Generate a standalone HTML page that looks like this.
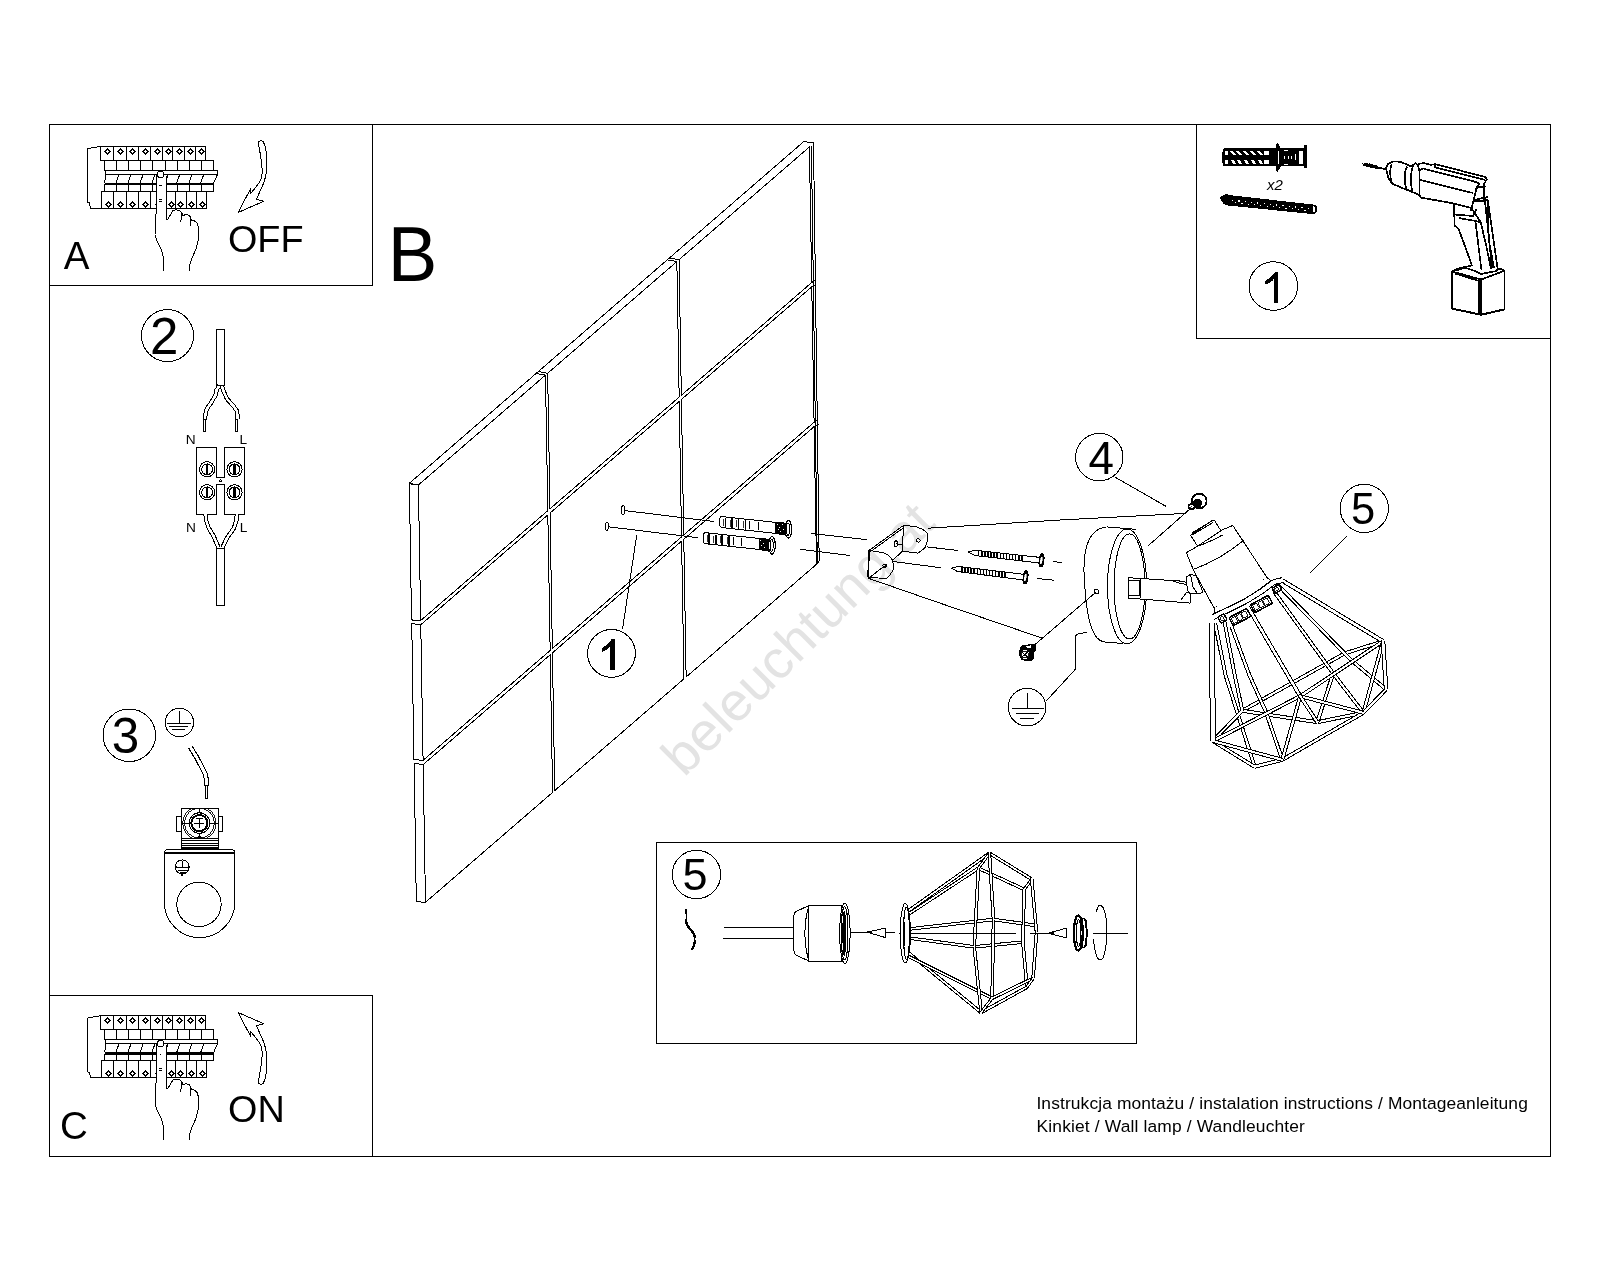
<!DOCTYPE html>
<html><head><meta charset="utf-8"><title>Instrukcja montazu</title>
<style>
html,body{margin:0;padding:0;background:#fff;}
body{width:1600px;height:1280px;overflow:hidden;position:relative;}
svg{position:absolute;left:0;top:0;filter:grayscale(1);}
.c line,.c polyline,.c polygon,.c path,.c rect,.c circle,.c ellipse{shape-rendering:crispEdges;}
text{font-family:"Liberation Sans",sans-serif;}
</style></head><body>
<svg class="c" width="1600" height="1280" viewBox="0 0 1600 1280">
<rect x="49.50" y="124.50" width="1501.00" height="1032.00" fill="none" stroke="#000" stroke-width="1" />
<rect x="49.50" y="124.50" width="323.00" height="161.00" fill="none" stroke="#000" stroke-width="1" />
<rect x="49.50" y="995.50" width="323.00" height="161.00" fill="none" stroke="#000" stroke-width="1" />
<rect x="1196.50" y="124.50" width="354.00" height="214.00" fill="none" stroke="#000" stroke-width="1" />
<rect x="656.50" y="842.50" width="480.00" height="201.00" fill="none" stroke="#000" stroke-width="1" />
<text x="63.82" y="268.60" font-size="38.5" fill="#000" >A</text>
<text x="227.91" y="252.40" font-size="37.8" fill="#000" >OFF</text>
<text x="59.94" y="1138.50" font-size="38.5" fill="#000" >C</text>
<text x="228.01" y="1121.50" font-size="37.8" fill="#000" >ON</text>
<text x="0" y="0" font-size="77" fill="#000" transform="translate(387.7 280.8) scale(0.965 1)">B</text>
<polygon points="418.40,485.00 545.48,375.15 547.78,510.69 420.71,620.54" fill="none" stroke="#000" stroke-width="1" stroke-linejoin="round" />
<polygon points="420.78,624.80 547.85,514.95 550.16,650.44 423.08,760.29" fill="none" stroke="#000" stroke-width="1" stroke-linejoin="round" />
<polygon points="423.16,764.59 550.23,654.74 552.58,792.45 425.50,902.30" fill="none" stroke="#000" stroke-width="1" stroke-linejoin="round" />
<polygon points="547.66,373.26 676.85,261.58 679.16,397.12 549.97,508.80" fill="none" stroke="#000" stroke-width="1" stroke-linejoin="round" />
<polygon points="550.04,513.05 679.23,401.38 681.53,536.87 552.35,648.55" fill="none" stroke="#000" stroke-width="1" stroke-linejoin="round" />
<polygon points="552.42,652.85 681.61,541.17 683.95,678.88 554.76,790.56" fill="none" stroke="#000" stroke-width="1" stroke-linejoin="round" />
<polygon points="679.04,259.69 809.40,147.00 811.71,282.54 681.35,395.23" fill="none" stroke="#000" stroke-width="1" stroke-linejoin="round" />
<polygon points="681.42,399.48 811.78,286.80 814.08,422.29 683.72,534.98" fill="none" stroke="#000" stroke-width="1" stroke-linejoin="round" />
<polygon points="683.80,539.28 814.16,426.59 816.50,564.30 686.14,676.99" fill="none" stroke="#000" stroke-width="1" stroke-linejoin="round" />
<polyline points="418.40,485.00 409.40,483.80 411.51,619.94 420.71,620.54" fill="none" stroke="#000" stroke-width="1" stroke-linejoin="round" />
<polyline points="420.78,624.80 411.78,623.60 413.88,759.69 423.08,760.29" fill="none" stroke="#000" stroke-width="1" stroke-linejoin="round" />
<polyline points="423.16,764.59 414.16,763.39 416.30,901.70 425.50,902.30" fill="none" stroke="#000" stroke-width="1" stroke-linejoin="round" />
<polyline points="418.40,485.00 409.30,483.30 803.75,141.60 813.50,143.00 819.20,561.00 816.50,564.30" fill="none" stroke="#000" stroke-width="1" stroke-linejoin="round" />
<line x1="811.40" y1="146.00" x2="817.30" y2="562.50" stroke="#000" stroke-width="1" />
<line x1="545.48" y1="375.15" x2="536.38" y2="373.45" stroke="#000" stroke-width="1" />
<line x1="547.66" y1="373.26" x2="538.56" y2="371.56" stroke="#000" stroke-width="1" />
<line x1="676.85" y1="261.58" x2="667.75" y2="259.88" stroke="#000" stroke-width="1" />
<line x1="679.04" y1="259.69" x2="669.94" y2="257.99" stroke="#000" stroke-width="1" />
<line x1="811.71" y1="282.54" x2="815.91" y2="280.04" stroke="#000" stroke-width="1" />
<line x1="811.78" y1="286.80" x2="815.98" y2="284.30" stroke="#000" stroke-width="1" />
<line x1="814.08" y1="422.29" x2="818.28" y2="419.79" stroke="#000" stroke-width="1" />
<line x1="814.16" y1="426.59" x2="818.36" y2="424.09" stroke="#000" stroke-width="1" />
<polyline points="100.25,146.50 88.00,148.50 87.50,149.50 87.50,202.50 89.50,203.00 90.50,208.10 101.50,208.10" fill="none" stroke="#000" stroke-width="1" stroke-linejoin="round" />
<rect x="100.25" y="146.50" width="105.35" height="13.75" fill="none" stroke="#000" stroke-width="1" />
<line x1="113.50" y1="146.50" x2="113.50" y2="160.25" stroke="#000" stroke-width="1" />
<line x1="126.50" y1="146.50" x2="126.50" y2="160.25" stroke="#000" stroke-width="1" />
<line x1="138.50" y1="146.50" x2="138.50" y2="160.25" stroke="#000" stroke-width="1" />
<line x1="150.60" y1="146.50" x2="150.60" y2="160.25" stroke="#000" stroke-width="1" />
<line x1="162.50" y1="146.50" x2="162.50" y2="160.25" stroke="#000" stroke-width="1" />
<line x1="172.75" y1="146.50" x2="172.75" y2="160.25" stroke="#000" stroke-width="1" />
<line x1="184.40" y1="146.50" x2="184.40" y2="160.25" stroke="#000" stroke-width="1" />
<line x1="195.60" y1="146.50" x2="195.60" y2="160.25" stroke="#000" stroke-width="1" />
<polygon points="107.50,149.00 110.00,151.50 107.50,154.00 105.00,151.50" fill="none" stroke="#000" stroke-width="1" stroke-linejoin="round" />
<polygon points="120.50,149.00 123.00,151.50 120.50,154.00 118.00,151.50" fill="none" stroke="#000" stroke-width="1" stroke-linejoin="round" />
<polygon points="132.50,149.00 135.00,151.50 132.50,154.00 130.00,151.50" fill="none" stroke="#000" stroke-width="1" stroke-linejoin="round" />
<polygon points="145.50,149.00 148.00,151.50 145.50,154.00 143.00,151.50" fill="none" stroke="#000" stroke-width="1" stroke-linejoin="round" />
<polygon points="157.50,149.00 160.00,151.50 157.50,154.00 155.00,151.50" fill="none" stroke="#000" stroke-width="1" stroke-linejoin="round" />
<polygon points="168.50,149.00 171.00,151.50 168.50,154.00 166.00,151.50" fill="none" stroke="#000" stroke-width="1" stroke-linejoin="round" />
<polygon points="179.50,149.00 182.00,151.50 179.50,154.00 177.00,151.50" fill="none" stroke="#000" stroke-width="1" stroke-linejoin="round" />
<polygon points="190.50,149.00 193.00,151.50 190.50,154.00 188.00,151.50" fill="none" stroke="#000" stroke-width="1" stroke-linejoin="round" />
<polygon points="201.50,149.00 204.00,151.50 201.50,154.00 199.00,151.50" fill="none" stroke="#000" stroke-width="1" stroke-linejoin="round" />
<rect x="104.75" y="160.25" width="109.00" height="10.35" fill="none" stroke="#000" stroke-width="1" />
<line x1="116.50" y1="160.25" x2="116.50" y2="170.60" stroke="#000" stroke-width="1" />
<line x1="128.50" y1="160.25" x2="128.50" y2="170.60" stroke="#000" stroke-width="1" />
<line x1="140.60" y1="160.25" x2="140.60" y2="170.60" stroke="#000" stroke-width="1" />
<line x1="152.50" y1="160.25" x2="152.50" y2="170.60" stroke="#000" stroke-width="1" />
<line x1="165.60" y1="160.25" x2="165.60" y2="170.60" stroke="#000" stroke-width="1" />
<line x1="177.25" y1="160.25" x2="177.25" y2="170.60" stroke="#000" stroke-width="1" />
<line x1="189.40" y1="160.25" x2="189.40" y2="170.60" stroke="#000" stroke-width="1" />
<line x1="201.25" y1="160.25" x2="201.25" y2="170.60" stroke="#000" stroke-width="1" />
<rect x="105.60" y="170.60" width="111.90" height="3.80" fill="none" stroke="#000" stroke-width="1" />
<line x1="104.75" y1="183.75" x2="213.75" y2="183.75" stroke="#000" stroke-width="2" />
<line x1="217.50" y1="174.40" x2="213.75" y2="183.00" stroke="#000" stroke-width="1" />
<line x1="105.60" y1="174.40" x2="104.75" y2="183.00" stroke="#000" stroke-width="1" />
<line x1="119.00" y1="174.40" x2="116.00" y2="183.00" stroke="#000" stroke-width="1" />
<line x1="131.00" y1="174.40" x2="128.00" y2="183.00" stroke="#000" stroke-width="1" />
<line x1="143.10" y1="174.40" x2="140.10" y2="183.00" stroke="#000" stroke-width="1" />
<line x1="155.00" y1="174.40" x2="152.00" y2="183.00" stroke="#000" stroke-width="1" />
<line x1="168.10" y1="174.40" x2="165.10" y2="183.00" stroke="#000" stroke-width="1" />
<line x1="179.75" y1="174.40" x2="176.75" y2="183.00" stroke="#000" stroke-width="1" />
<line x1="191.90" y1="174.40" x2="188.90" y2="183.00" stroke="#000" stroke-width="1" />
<line x1="203.75" y1="174.40" x2="200.75" y2="183.00" stroke="#000" stroke-width="1" />
<rect x="104.75" y="184.75" width="109.00" height="6.50" fill="none" stroke="#000" stroke-width="1" />
<line x1="116.50" y1="184.75" x2="116.50" y2="191.25" stroke="#000" stroke-width="1" />
<line x1="128.50" y1="184.75" x2="128.50" y2="191.25" stroke="#000" stroke-width="1" />
<line x1="140.60" y1="184.75" x2="140.60" y2="191.25" stroke="#000" stroke-width="1" />
<line x1="152.50" y1="184.75" x2="152.50" y2="191.25" stroke="#000" stroke-width="1" />
<line x1="165.60" y1="184.75" x2="165.60" y2="191.25" stroke="#000" stroke-width="1" />
<line x1="177.25" y1="184.75" x2="177.25" y2="191.25" stroke="#000" stroke-width="1" />
<line x1="189.40" y1="184.75" x2="189.40" y2="191.25" stroke="#000" stroke-width="1" />
<line x1="201.25" y1="184.75" x2="201.25" y2="191.25" stroke="#000" stroke-width="1" />
<rect x="101.50" y="191.25" width="105.00" height="16.85" fill="none" stroke="#000" stroke-width="1" />
<line x1="113.50" y1="191.25" x2="113.50" y2="208.10" stroke="#000" stroke-width="1" />
<line x1="126.50" y1="191.25" x2="126.50" y2="208.10" stroke="#000" stroke-width="1" />
<line x1="138.50" y1="191.25" x2="138.50" y2="208.10" stroke="#000" stroke-width="1" />
<line x1="150.60" y1="191.25" x2="150.60" y2="208.10" stroke="#000" stroke-width="1" />
<line x1="166.20" y1="191.25" x2="166.20" y2="208.10" stroke="#000" stroke-width="1" />
<line x1="175.00" y1="191.25" x2="175.00" y2="208.10" stroke="#000" stroke-width="1" />
<line x1="186.00" y1="191.25" x2="186.00" y2="208.10" stroke="#000" stroke-width="1" />
<line x1="196.90" y1="191.25" x2="196.90" y2="208.10" stroke="#000" stroke-width="1" />
<polygon points="108.50,202.00 111.00,204.50 108.50,207.00 106.00,204.50" fill="none" stroke="#000" stroke-width="1" stroke-linejoin="round" />
<polygon points="120.50,202.00 123.00,204.50 120.50,207.00 118.00,204.50" fill="none" stroke="#000" stroke-width="1" stroke-linejoin="round" />
<polygon points="132.50,202.00 135.00,204.50 132.50,207.00 130.00,204.50" fill="none" stroke="#000" stroke-width="1" stroke-linejoin="round" />
<polygon points="145.50,202.00 148.00,204.50 145.50,207.00 143.00,204.50" fill="none" stroke="#000" stroke-width="1" stroke-linejoin="round" />
<polygon points="158.50,202.00 161.00,204.50 158.50,207.00 156.00,204.50" fill="none" stroke="#000" stroke-width="1" stroke-linejoin="round" />
<polygon points="171.50,202.00 174.00,204.50 171.50,207.00 169.00,204.50" fill="none" stroke="#000" stroke-width="1" stroke-linejoin="round" />
<polygon points="180.50,202.00 183.00,204.50 180.50,207.00 178.00,204.50" fill="none" stroke="#000" stroke-width="1" stroke-linejoin="round" />
<polygon points="191.50,202.00 194.00,204.50 191.50,207.00 189.00,204.50" fill="none" stroke="#000" stroke-width="1" stroke-linejoin="round" />
<polygon points="202.50,202.00 205.00,204.50 202.50,207.00 200.00,204.50" fill="none" stroke="#000" stroke-width="1" stroke-linejoin="round" />
<path d="M156.25,175.00 L156.20,210.00 L155.60,222.50 L155.00,235.00 L157.50,242.00 L161.50,250.00 L163.10,256.00 L163.10,271.00 L168.00,219.00 L173.00,210.60 L176.00,209.80 L180.00,210.80 L182.00,213.00 L183.00,215.50 L186.00,214.50 L189.50,215.50 L190.80,218.00 L191.50,220.50 L193.50,220.20 L197.00,223.00 L198.60,228.00 L198.20,240.00 L196.00,249.00 L192.00,258.00 L189.80,264.50 L190.00,270.60 L166.25,219.00 L166.25,176.00 Z" fill="#fff" stroke="none"/>
<polyline points="156.25,175.00 156.20,210.00 155.60,222.50 155.00,235.00 157.50,242.00 161.50,250.00 163.10,256.00 163.10,271.00" fill="none" stroke="#000" stroke-width="1" stroke-linejoin="round" />
<polyline points="168.00,219.00 173.00,210.60 176.00,209.80 180.00,210.80 182.00,213.00 183.00,215.50 186.00,214.50 189.50,215.50 190.80,218.00 191.50,220.50 193.50,220.20 197.00,223.00 198.60,228.00 198.20,240.00 196.00,249.00 192.00,258.00 189.80,264.50 190.00,270.60" fill="none" stroke="#000" stroke-width="1" stroke-linejoin="round" />
<polyline points="166.25,176.00 166.25,219.00 168.00,219.00" fill="none" stroke="#000" stroke-width="1" stroke-linejoin="round" />
<polyline points="182.00,213.00 181.50,217.00 180.60,222.50" fill="none" stroke="#000" stroke-width="1" stroke-linejoin="round" />
<polyline points="190.80,218.00 190.80,223.00 190.60,226.30" fill="none" stroke="#000" stroke-width="1" stroke-linejoin="round" />
<circle cx="160.60" cy="174.40" r="3.30" fill="#fff" stroke="#000" stroke-width="1" />
<line x1="159.50" y1="186.00" x2="161.50" y2="185.20" stroke="#000" stroke-width="1" />
<line x1="158.80" y1="199.00" x2="162.00" y2="199.00" stroke="#000" stroke-width="1" />
<line x1="158.80" y1="201.00" x2="162.00" y2="201.00" stroke="#000" stroke-width="1" />
<polyline points="100.25,1015.80 88.00,1017.80 87.50,1018.80 87.50,1071.80 89.50,1072.30 90.50,1077.40 101.50,1077.40" fill="none" stroke="#000" stroke-width="1" stroke-linejoin="round" />
<rect x="100.25" y="1015.80" width="105.35" height="13.75" fill="none" stroke="#000" stroke-width="1" />
<line x1="113.50" y1="1015.80" x2="113.50" y2="1029.55" stroke="#000" stroke-width="1" />
<line x1="126.50" y1="1015.80" x2="126.50" y2="1029.55" stroke="#000" stroke-width="1" />
<line x1="138.50" y1="1015.80" x2="138.50" y2="1029.55" stroke="#000" stroke-width="1" />
<line x1="150.60" y1="1015.80" x2="150.60" y2="1029.55" stroke="#000" stroke-width="1" />
<line x1="162.50" y1="1015.80" x2="162.50" y2="1029.55" stroke="#000" stroke-width="1" />
<line x1="172.75" y1="1015.80" x2="172.75" y2="1029.55" stroke="#000" stroke-width="1" />
<line x1="184.40" y1="1015.80" x2="184.40" y2="1029.55" stroke="#000" stroke-width="1" />
<line x1="195.60" y1="1015.80" x2="195.60" y2="1029.55" stroke="#000" stroke-width="1" />
<polygon points="107.50,1018.00 110.00,1020.50 107.50,1023.00 105.00,1020.50" fill="none" stroke="#000" stroke-width="1" stroke-linejoin="round" />
<polygon points="120.50,1018.00 123.00,1020.50 120.50,1023.00 118.00,1020.50" fill="none" stroke="#000" stroke-width="1" stroke-linejoin="round" />
<polygon points="132.50,1018.00 135.00,1020.50 132.50,1023.00 130.00,1020.50" fill="none" stroke="#000" stroke-width="1" stroke-linejoin="round" />
<polygon points="145.50,1018.00 148.00,1020.50 145.50,1023.00 143.00,1020.50" fill="none" stroke="#000" stroke-width="1" stroke-linejoin="round" />
<polygon points="157.50,1018.00 160.00,1020.50 157.50,1023.00 155.00,1020.50" fill="none" stroke="#000" stroke-width="1" stroke-linejoin="round" />
<polygon points="168.50,1018.00 171.00,1020.50 168.50,1023.00 166.00,1020.50" fill="none" stroke="#000" stroke-width="1" stroke-linejoin="round" />
<polygon points="179.50,1018.00 182.00,1020.50 179.50,1023.00 177.00,1020.50" fill="none" stroke="#000" stroke-width="1" stroke-linejoin="round" />
<polygon points="190.50,1018.00 193.00,1020.50 190.50,1023.00 188.00,1020.50" fill="none" stroke="#000" stroke-width="1" stroke-linejoin="round" />
<polygon points="201.50,1018.00 204.00,1020.50 201.50,1023.00 199.00,1020.50" fill="none" stroke="#000" stroke-width="1" stroke-linejoin="round" />
<rect x="104.75" y="1029.55" width="109.00" height="10.35" fill="none" stroke="#000" stroke-width="1" />
<line x1="116.50" y1="1029.55" x2="116.50" y2="1039.90" stroke="#000" stroke-width="1" />
<line x1="128.50" y1="1029.55" x2="128.50" y2="1039.90" stroke="#000" stroke-width="1" />
<line x1="140.60" y1="1029.55" x2="140.60" y2="1039.90" stroke="#000" stroke-width="1" />
<line x1="152.50" y1="1029.55" x2="152.50" y2="1039.90" stroke="#000" stroke-width="1" />
<line x1="165.60" y1="1029.55" x2="165.60" y2="1039.90" stroke="#000" stroke-width="1" />
<line x1="177.25" y1="1029.55" x2="177.25" y2="1039.90" stroke="#000" stroke-width="1" />
<line x1="189.40" y1="1029.55" x2="189.40" y2="1039.90" stroke="#000" stroke-width="1" />
<line x1="201.25" y1="1029.55" x2="201.25" y2="1039.90" stroke="#000" stroke-width="1" />
<rect x="105.60" y="1039.90" width="111.90" height="3.80" fill="none" stroke="#000" stroke-width="1" />
<line x1="104.75" y1="1053.05" x2="213.75" y2="1053.05" stroke="#000" stroke-width="2" />
<line x1="217.50" y1="1043.70" x2="213.75" y2="1052.30" stroke="#000" stroke-width="1" />
<line x1="105.60" y1="1043.70" x2="104.75" y2="1052.30" stroke="#000" stroke-width="1" />
<line x1="119.00" y1="1043.70" x2="116.00" y2="1052.30" stroke="#000" stroke-width="1" />
<line x1="131.00" y1="1043.70" x2="128.00" y2="1052.30" stroke="#000" stroke-width="1" />
<line x1="143.10" y1="1043.70" x2="140.10" y2="1052.30" stroke="#000" stroke-width="1" />
<line x1="155.00" y1="1043.70" x2="152.00" y2="1052.30" stroke="#000" stroke-width="1" />
<line x1="168.10" y1="1043.70" x2="165.10" y2="1052.30" stroke="#000" stroke-width="1" />
<line x1="179.75" y1="1043.70" x2="176.75" y2="1052.30" stroke="#000" stroke-width="1" />
<line x1="191.90" y1="1043.70" x2="188.90" y2="1052.30" stroke="#000" stroke-width="1" />
<line x1="203.75" y1="1043.70" x2="200.75" y2="1052.30" stroke="#000" stroke-width="1" />
<rect x="104.75" y="1054.05" width="109.00" height="6.50" fill="none" stroke="#000" stroke-width="1" />
<line x1="116.50" y1="1054.05" x2="116.50" y2="1060.55" stroke="#000" stroke-width="1" />
<line x1="128.50" y1="1054.05" x2="128.50" y2="1060.55" stroke="#000" stroke-width="1" />
<line x1="140.60" y1="1054.05" x2="140.60" y2="1060.55" stroke="#000" stroke-width="1" />
<line x1="152.50" y1="1054.05" x2="152.50" y2="1060.55" stroke="#000" stroke-width="1" />
<line x1="165.60" y1="1054.05" x2="165.60" y2="1060.55" stroke="#000" stroke-width="1" />
<line x1="177.25" y1="1054.05" x2="177.25" y2="1060.55" stroke="#000" stroke-width="1" />
<line x1="189.40" y1="1054.05" x2="189.40" y2="1060.55" stroke="#000" stroke-width="1" />
<line x1="201.25" y1="1054.05" x2="201.25" y2="1060.55" stroke="#000" stroke-width="1" />
<rect x="101.50" y="1060.55" width="105.00" height="16.85" fill="none" stroke="#000" stroke-width="1" />
<line x1="113.50" y1="1060.55" x2="113.50" y2="1077.40" stroke="#000" stroke-width="1" />
<line x1="126.50" y1="1060.55" x2="126.50" y2="1077.40" stroke="#000" stroke-width="1" />
<line x1="138.50" y1="1060.55" x2="138.50" y2="1077.40" stroke="#000" stroke-width="1" />
<line x1="150.60" y1="1060.55" x2="150.60" y2="1077.40" stroke="#000" stroke-width="1" />
<line x1="166.20" y1="1060.55" x2="166.20" y2="1077.40" stroke="#000" stroke-width="1" />
<line x1="175.00" y1="1060.55" x2="175.00" y2="1077.40" stroke="#000" stroke-width="1" />
<line x1="186.00" y1="1060.55" x2="186.00" y2="1077.40" stroke="#000" stroke-width="1" />
<line x1="196.90" y1="1060.55" x2="196.90" y2="1077.40" stroke="#000" stroke-width="1" />
<polygon points="108.50,1071.00 111.00,1073.50 108.50,1076.00 106.00,1073.50" fill="none" stroke="#000" stroke-width="1" stroke-linejoin="round" />
<polygon points="120.50,1071.00 123.00,1073.50 120.50,1076.00 118.00,1073.50" fill="none" stroke="#000" stroke-width="1" stroke-linejoin="round" />
<polygon points="132.50,1071.00 135.00,1073.50 132.50,1076.00 130.00,1073.50" fill="none" stroke="#000" stroke-width="1" stroke-linejoin="round" />
<polygon points="145.50,1071.00 148.00,1073.50 145.50,1076.00 143.00,1073.50" fill="none" stroke="#000" stroke-width="1" stroke-linejoin="round" />
<polygon points="158.50,1071.00 161.00,1073.50 158.50,1076.00 156.00,1073.50" fill="none" stroke="#000" stroke-width="1" stroke-linejoin="round" />
<polygon points="171.50,1071.00 174.00,1073.50 171.50,1076.00 169.00,1073.50" fill="none" stroke="#000" stroke-width="1" stroke-linejoin="round" />
<polygon points="180.50,1071.00 183.00,1073.50 180.50,1076.00 178.00,1073.50" fill="none" stroke="#000" stroke-width="1" stroke-linejoin="round" />
<polygon points="191.50,1071.00 194.00,1073.50 191.50,1076.00 189.00,1073.50" fill="none" stroke="#000" stroke-width="1" stroke-linejoin="round" />
<polygon points="202.50,1071.00 205.00,1073.50 202.50,1076.00 200.00,1073.50" fill="none" stroke="#000" stroke-width="1" stroke-linejoin="round" />
<path d="M156.25,1044.30 L156.20,1079.30 L155.60,1091.80 L155.00,1104.30 L157.50,1111.30 L161.50,1119.30 L163.10,1125.30 L163.10,1140.30 L168.00,1088.30 L173.00,1079.90 L176.00,1079.10 L180.00,1080.10 L182.00,1082.30 L183.00,1084.80 L186.00,1083.80 L189.50,1084.80 L190.80,1087.30 L191.50,1089.80 L193.50,1089.50 L197.00,1092.30 L198.60,1097.30 L198.20,1109.30 L196.00,1118.30 L192.00,1127.30 L189.80,1133.80 L190.00,1139.90 L166.25,1088.30 L166.25,1045.30 Z" fill="#fff" stroke="none"/>
<polyline points="156.25,1044.30 156.20,1079.30 155.60,1091.80 155.00,1104.30 157.50,1111.30 161.50,1119.30 163.10,1125.30 163.10,1140.30" fill="none" stroke="#000" stroke-width="1" stroke-linejoin="round" />
<polyline points="168.00,1088.30 173.00,1079.90 176.00,1079.10 180.00,1080.10 182.00,1082.30 183.00,1084.80 186.00,1083.80 189.50,1084.80 190.80,1087.30 191.50,1089.80 193.50,1089.50 197.00,1092.30 198.60,1097.30 198.20,1109.30 196.00,1118.30 192.00,1127.30 189.80,1133.80 190.00,1139.90" fill="none" stroke="#000" stroke-width="1" stroke-linejoin="round" />
<polyline points="166.25,1045.30 166.25,1088.30 168.00,1088.30" fill="none" stroke="#000" stroke-width="1" stroke-linejoin="round" />
<polyline points="182.00,1082.30 181.50,1086.30 180.60,1091.80" fill="none" stroke="#000" stroke-width="1" stroke-linejoin="round" />
<polyline points="190.80,1087.30 190.80,1092.30 190.60,1095.60" fill="none" stroke="#000" stroke-width="1" stroke-linejoin="round" />
<circle cx="160.60" cy="1043.70" r="3.30" fill="#fff" stroke="#000" stroke-width="1" />
<line x1="159.50" y1="1055.30" x2="161.50" y2="1054.50" stroke="#000" stroke-width="1" />
<line x1="158.80" y1="1068.30" x2="162.00" y2="1068.30" stroke="#000" stroke-width="1" />
<line x1="158.80" y1="1070.30" x2="162.00" y2="1070.30" stroke="#000" stroke-width="1" />
<polygon points="258.10,142.50 259.60,150.00 261.25,160.00 262.40,172.50 260.80,180.00 257.50,185.00 253.50,190.00 250.60,193.75 250.60,188.75 238.10,212.50 263.75,201.25 256.25,199.40 261.25,188.75 264.50,181.00 266.25,172.50 266.90,157.50 265.50,147.00 263.10,141.25 260.50,140.40 258.10,142.50" fill="none" stroke="#000" stroke-width="1" stroke-linejoin="round" />
<polygon points="258.10,1082.50 259.60,1075.00 261.25,1065.00 262.40,1052.50 260.80,1045.00 257.50,1040.00 253.50,1035.00 250.60,1031.25 250.60,1036.25 238.10,1012.50 263.75,1023.75 256.25,1025.60 261.25,1036.25 264.50,1044.00 266.25,1052.50 266.90,1067.50 265.50,1078.00 263.10,1083.75 260.50,1084.60 258.10,1082.50" fill="none" stroke="#000" stroke-width="1" stroke-linejoin="round" />
<circle cx="167.50" cy="335.60" r="26.00" fill="none" stroke="#000" stroke-width="1" />
<text x="149.94" y="354.00" font-size="51" fill="#000" >2</text>
<circle cx="129.30" cy="735.25" r="26.25" fill="none" stroke="#000" stroke-width="1" />
<text x="111.87" y="752.90" font-size="49.4" fill="#000" >3</text>
<circle cx="1273.30" cy="286.05" r="24.30" fill="none" stroke="#000" stroke-width="1" />
<path d="M1278.30,302.70 L1278.30,271.50 L1275.38,271.50 Q1272.76,276.53 1264.50,281.16 L1264.50,284.79 Q1272.26,282.07 1273.97,278.95 L1273.97,302.70 Z" fill="#000"/>
<circle cx="611.50" cy="653.40" r="23.90" fill="none" stroke="#000" stroke-width="1" />
<path d="M614.70,669.70 L614.70,638.75 L611.80,638.75 Q609.21,643.74 601.60,648.33 L601.60,651.93 Q608.71,649.23 610.41,646.14 L610.41,669.70 Z" fill="#000"/>
<circle cx="1099.30" cy="457.10" r="23.70" fill="none" stroke="#000" stroke-width="1" />
<text x="1088.55" y="473.60" font-size="45.8" fill="#000" >4</text>
<circle cx="1364.30" cy="508.40" r="24.10" fill="none" stroke="#000" stroke-width="1" />
<text x="1350.96" y="523.80" font-size="43.5" fill="#000" >5</text>
<circle cx="696.50" cy="874.50" r="24.20" fill="none" stroke="#000" stroke-width="1" />
<text x="682.60" y="890.40" font-size="45" fill="#000" >5</text>
<rect x="216.25" y="329.40" width="8.50" height="56.20" fill="none" stroke="#000" stroke-width="1" />
<path d="M219.30,385.60 L216.60,390.00 L215.60,395.00 L210.50,403.60 L206.60,409.20 L205.40,414.40 L205.20,419.50" fill="none" stroke="#000" stroke-width="4.4" stroke-linejoin="round"/>
<path d="M219.30,385.60 L216.60,390.00 L215.60,395.00 L210.50,403.60 L206.60,409.20 L205.40,414.40 L205.20,419.50" fill="none" stroke="#fff" stroke-width="2.4" stroke-linejoin="round"/>
<path d="M221.80,385.60 L223.60,391.50 L227.20,399.00 L233.60,406.20 L236.60,410.50 L237.40,414.40 L237.60,419.50" fill="none" stroke="#000" stroke-width="4.4" stroke-linejoin="round"/>
<path d="M221.80,385.60 L223.60,391.50 L227.20,399.00 L233.60,406.20 L236.60,410.50 L237.40,414.40 L237.60,419.50" fill="none" stroke="#fff" stroke-width="2.4" stroke-linejoin="round"/>
<rect x="203.60" y="419.40" width="2.30" height="11.90" fill="none" stroke="#000" stroke-width="1" />
<rect x="235.40" y="419.40" width="2.30" height="11.90" fill="none" stroke="#000" stroke-width="1" />
<rect x="218" y="384" width="5" height="2" fill="#fff"/>
<line x1="216.25" y1="385.60" x2="224.75" y2="385.60" stroke="#000" stroke-width="1" />
<text x="185.78" y="443.75" font-size="13.7" fill="#000" >N</text>
<text x="239.48" y="443.75" font-size="13.7" fill="#000" >L</text>
<text x="185.88" y="532.40" font-size="13.7" fill="#000" >N</text>
<text x="239.78" y="532.40" font-size="13.7" fill="#000" >L</text>
<polygon points="216.70,477.20 216.70,447.40 196.40,447.40 196.40,514.30 216.70,514.30 216.70,484.60 224.60,484.60 224.60,514.30 244.50,514.30 244.50,447.40 224.60,447.40 224.60,477.20" fill="none" stroke="#000" stroke-width="1" stroke-linejoin="round" />
<circle cx="220.50" cy="480.70" r="0.90" fill="none" stroke="#000" stroke-width="1" />
<circle cx="207.10" cy="469.30" r="7.60" fill="none" stroke="#000" stroke-width="1" />
<circle cx="207.10" cy="469.30" r="5.40" fill="none" stroke="#000" stroke-width="1" />
<rect x="206.00" y="464.80" width="2.2" height="9" fill="#000"/>
<line x1="204.60" y1="464.70" x2="209.60" y2="464.70" stroke="#000" stroke-width="1" />
<circle cx="207.10" cy="492.30" r="7.60" fill="none" stroke="#000" stroke-width="1" />
<circle cx="207.10" cy="492.30" r="5.40" fill="none" stroke="#000" stroke-width="1" />
<rect x="206.00" y="487.80" width="2.2" height="9" fill="#000"/>
<line x1="204.60" y1="487.70" x2="209.60" y2="487.70" stroke="#000" stroke-width="1" />
<circle cx="234.50" cy="469.30" r="7.60" fill="none" stroke="#000" stroke-width="1" />
<circle cx="234.50" cy="469.30" r="5.40" fill="none" stroke="#000" stroke-width="1" />
<rect x="233.40" y="464.80" width="2.2" height="9" fill="#000"/>
<line x1="232.00" y1="464.70" x2="237.00" y2="464.70" stroke="#000" stroke-width="1" />
<circle cx="234.50" cy="492.30" r="7.60" fill="none" stroke="#000" stroke-width="1" />
<circle cx="234.50" cy="492.30" r="5.40" fill="none" stroke="#000" stroke-width="1" />
<rect x="233.40" y="487.80" width="2.2" height="9" fill="#000"/>
<line x1="232.00" y1="487.70" x2="237.00" y2="487.70" stroke="#000" stroke-width="1" />
<path d="M205.60,514.30 L206.00,520.00 L208.50,527.50 L214.00,537.00 L218.60,548.00" fill="none" stroke="#000" stroke-width="4.4" stroke-linejoin="round"/>
<path d="M205.60,514.30 L206.00,520.00 L208.50,527.50 L214.00,537.00 L218.60,548.00" fill="none" stroke="#fff" stroke-width="2.4" stroke-linejoin="round"/>
<path d="M236.80,514.30 L236.50,520.00 L234.00,528.00 L227.00,538.00 L222.30,548.00" fill="none" stroke="#000" stroke-width="4.4" stroke-linejoin="round"/>
<path d="M236.80,514.30 L236.50,520.00 L234.00,528.00 L227.00,538.00 L222.30,548.00" fill="none" stroke="#fff" stroke-width="2.4" stroke-linejoin="round"/>
<rect x="216.30" y="548.00" width="8.30" height="57.80" fill="none" stroke="#000" stroke-width="1" />
<circle cx="179.40" cy="722.50" r="14.25" fill="none" stroke="#000" stroke-width="1" />
<line x1="179.40" y1="711.25" x2="179.40" y2="723.10" stroke="#000" stroke-width="1" />
<line x1="166.90" y1="723.10" x2="191.25" y2="723.10" stroke="#000" stroke-width="1" />
<line x1="169.40" y1="726.25" x2="188.10" y2="726.25" stroke="#000" stroke-width="1" />
<line x1="171.90" y1="729.40" x2="185.00" y2="729.40" stroke="#000" stroke-width="1" />
<path d="M190.30,746.90 L197.00,758.00 L204.90,773.00 L206.30,779.00 L206.30,786.00" fill="none" stroke="#000" stroke-width="5.2" stroke-linejoin="round"/>
<path d="M190.30,746.90 L197.00,758.00 L204.90,773.00 L206.30,779.00 L206.30,786.00" fill="none" stroke="#fff" stroke-width="3.0" stroke-linejoin="round"/>
<rect x="205.25" y="785.00" width="2.25" height="13.75" fill="none" stroke="#000" stroke-width="1" />
<rect x="176.25" y="816.25" width="46.25" height="15" fill="#fff" stroke="#000"/>
<rect x="181" y="808.1" width="37.75" height="30.65" fill="#fff" stroke="#000"/>
<circle cx="199.4" cy="823.1" r="16.6" fill="none" stroke="#000" stroke-width="0.9" clip-path="url(#clipT)"/>
<circle cx="199.4" cy="823.1" r="15.0" fill="none" stroke="#000" stroke-width="0.9" clip-path="url(#clipT)"/>
<clipPath id="clipT"><rect x="181" y="808.1" width="37.75" height="30.65"/></clipPath>
<line x1="181.00" y1="823.10" x2="218.75" y2="823.10" stroke="#000" stroke-width="1" />
<line x1="199.40" y1="808.10" x2="199.40" y2="838.75" stroke="#000" stroke-width="1" />
<circle cx="199.40" cy="823.10" r="10.30" fill="#fff" stroke="#000" stroke-width="1" />
<circle cx="199.40" cy="823.10" r="8.10" fill="#fff" stroke="#000" stroke-width="2" />
<line x1="194.40" y1="823.10" x2="204.40" y2="823.10" stroke="#000" stroke-width="1" />
<line x1="199.40" y1="818.10" x2="199.40" y2="828.10" stroke="#000" stroke-width="1" />
<line x1="196.00" y1="818.00" x2="203.00" y2="818.00" stroke="#000" stroke-width="1" />
<path d="M196,838.7 L199.4,835.5 L203,838.7 Z" fill="#000"/>
<rect x="181.00" y="838.75" width="37.75" height="10.65" fill="#fff" stroke="#000" stroke-width="1" />
<line x1="181.00" y1="840.80" x2="218.75" y2="840.80" stroke="#000" stroke-width="1.2" />
<line x1="181.00" y1="843.20" x2="218.75" y2="843.20" stroke="#000" stroke-width="1.2" />
<line x1="181.00" y1="845.70" x2="218.75" y2="845.70" stroke="#000" stroke-width="1.2" />
<line x1="181.00" y1="848.00" x2="218.75" y2="848.00" stroke="#000" stroke-width="1.2" />
<path d="M164.4,853 L164.4,902.5 A35.15,35.15 0 0 0 234.7,902.5 L234.7,853" fill="none" stroke="#000" stroke-width="1" stroke-linejoin="round" />
<path d="M164.4,853 Q164.4,849.4 168,849.4 L231,849.4 Q234.7,849.4 234.7,853 Z" fill="none" stroke="#000" stroke-width="1" stroke-linejoin="round" />
<line x1="164.40" y1="852.90" x2="234.70" y2="852.90" stroke="#000" stroke-width="1" />
<circle cx="199.00" cy="904.40" r="22.20" fill="none" stroke="#000" stroke-width="1" />
<circle cx="182.20" cy="866.90" r="7.00" fill="none" stroke="#000" stroke-width="1" />
<line x1="182.20" y1="860.50" x2="182.20" y2="867.50" stroke="#000" stroke-width="1" />
<line x1="176.00" y1="867.50" x2="188.40" y2="867.50" stroke="#000" stroke-width="1" />
<line x1="177.50" y1="870.00" x2="187.00" y2="870.00" stroke="#000" stroke-width="1" />
<line x1="179.50" y1="872.50" x2="185.00" y2="872.50" stroke="#000" stroke-width="1" />
<line x1="175.00" y1="866.90" x2="176.50" y2="866.90" stroke="#000" stroke-width="2" />
<line x1="188.00" y1="866.90" x2="189.40" y2="866.90" stroke="#000" stroke-width="2" />
<line x1="182.20" y1="873.50" x2="182.20" y2="875.50" stroke="#000" stroke-width="2" />
<path d="M1224.5,148.5 L1276,148.5 L1277.2,143.2 L1280.5,148.5 L1304.5,148.5 L1305,145.3 L1306.8,146 L1306.8,167.6 L1305,168 L1304.5,165.9 L1280.5,165.9 L1277.2,171.4 L1276,165.9 L1224.5,165.9 Q1222.9,165.9 1222.9,160 L1222.9,154.5 Q1222.9,148.5 1224.5,148.5 Z" fill="#000" stroke="#000" stroke-width="1" stroke-linejoin="round" />
<g fill="#fff"><rect x="1225" y="151" width="3" height="4"/><rect x="1225" y="159.5" width="3" height="4"/><path d="M1230,151 l3,0 l3,4 l-3,0 z"/><path d="M1236,151 l3,0 l3,4 l-3,0 z"/><path d="M1243,151 l3,0 l3,4 l-3,0 z"/><path d="M1250,151 l3,0 l3,4 l-3,0 z"/><path d="M1257,151 l3,0 l3,4 l-3,0 z"/><path d="M1230,159.5 l3,0 l3,4 l-3,0 z"/><path d="M1236,159.5 l3,0 l3,4 l-3,0 z"/><path d="M1243,159.5 l3,0 l3,4 l-3,0 z"/><path d="M1250,159.5 l3,0 l3,4 l-3,0 z"/><path d="M1257,159.5 l3,0 l3,4 l-3,0 z"/><rect x="1264" y="151" width="5" height="4"/><rect x="1264" y="159.5" width="5" height="4"/><rect x="1278" y="150.5" width="1.2" height="13"/><rect x="1283.5" y="150" width="4" height="1"/><rect x="1283.5" y="163.5" width="4" height="1"/><rect x="1299" y="150.5" width="4" height="13"/><rect x="1284" y="155.5" width="1" height="3"/><rect x="1287.5" y="155.5" width="1" height="3"/><rect x="1291" y="155.5" width="1" height="3"/><rect x="1294.5" y="154" width="1" height="6"/></g>
<text x="1266.90" y="189.80" font-size="15.0" fill="#000" font-style="italic">x2</text>
<path d="M1220.2,197.8 L1226,194.5 L1233,196 L1313,205 Q1317.5,205.8 1317,209.5 Q1316.5,213.8 1312,213.5 L1228,205 L1224,203.5 Z" fill="#000" stroke="#000" stroke-width="1" stroke-linejoin="round" />
<g fill="#fff"><rect x="1232.0" y="199.6" width="1.2" height="1.2"/><rect x="1238.3" y="200.3" width="1.2" height="1.2"/><rect x="1244.6" y="200.9" width="1.2" height="1.2"/><rect x="1250.9" y="201.6" width="1.2" height="1.2"/><rect x="1257.2" y="202.3" width="1.2" height="1.2"/><rect x="1263.5" y="202.9" width="1.2" height="1.2"/><rect x="1269.8" y="203.6" width="1.2" height="1.2"/><rect x="1276.1" y="204.3" width="1.2" height="1.2"/><rect x="1282.4" y="205.0" width="1.2" height="1.2"/><rect x="1288.7" y="205.6" width="1.2" height="1.2"/><rect x="1295.0" y="206.3" width="1.2" height="1.2"/><rect x="1301.3" y="207.0" width="1.2" height="1.2"/><rect x="1307.6" y="207.6" width="1.2" height="1.2"/><rect x="1235.0" y="202.2" width="1.2" height="1.2"/><rect x="1241.3" y="202.9" width="1.2" height="1.2"/><rect x="1247.6" y="203.5" width="1.2" height="1.2"/><rect x="1253.9" y="204.2" width="1.2" height="1.2"/><rect x="1260.2" y="204.9" width="1.2" height="1.2"/><rect x="1266.5" y="205.5" width="1.2" height="1.2"/><rect x="1272.8" y="206.2" width="1.2" height="1.2"/><rect x="1279.1" y="206.9" width="1.2" height="1.2"/><rect x="1285.4" y="207.6" width="1.2" height="1.2"/><rect x="1291.7" y="208.2" width="1.2" height="1.2"/><rect x="1298.0" y="208.9" width="1.2" height="1.2"/><rect x="1304.3" y="209.6" width="1.2" height="1.2"/><path d="M1313.5,206.3 Q1316,207.5 1315.5,210 Q1315,212.5 1313.3,212.3 Z"/></g>
<path d="M1386.2,168.4 Q1386.5,164.8 1389,163.5 L1393,161.5 L1400,161.7 L1406,164.2 L1411,166.2 L1415.4,163.3 L1418,165 L1419.4,170.6 L1419.4,195 L1408,190.2 L1401,187.5 L1393,184 Q1388.2,180 1387.3,174 Z" fill="none" stroke="#000" stroke-width="1.7" stroke-linejoin="round" />
<path d="M1391.5,164.5 Q1388.7,172 1391.8,182.5" fill="none" stroke="#000" stroke-width="1.7" stroke-linejoin="round" />
<path d="M1407,166.5 Q1402.5,176 1406.5,189.5" fill="none" stroke="#000" stroke-width="1.7" stroke-linejoin="round" />
<path d="M1413,166 Q1409,178 1412.5,192" fill="none" stroke="#000" stroke-width="1.7" stroke-linejoin="round" />
<path d="M1418.5,164 L1424,163 L1431,164.8 L1435,164.2 L1485,176.8 L1486.8,179.4 L1484,184 L1484,198.5 L1487.8,200.5 L1497.8,269.5 L1495.5,271.2" fill="none" stroke="#000" stroke-width="1.7" stroke-linejoin="round" />
<path d="M1419.4,170.6 L1423,168.5 L1474,181.5 L1479.5,183.5" fill="none" stroke="#000" stroke-width="1.7" stroke-linejoin="round" />
<path d="M1434.7,164.6 L1434.7,167.2 L1485,180" fill="none" stroke="#000" stroke-width="1.7" stroke-linejoin="round" />
<path d="M1420,180 L1473,193" fill="none" stroke="#000" stroke-width="1.7" stroke-linejoin="round" />
<path d="M1419.4,195 L1420.5,197.5 L1454,203.5 L1471.5,208" fill="none" stroke="#000" stroke-width="1.7" stroke-linejoin="round" />
<path d="M1479.5,183.5 L1476.5,188 L1473.5,201 L1470.5,211.5" fill="none" stroke="#000" stroke-width="1.7" stroke-linejoin="round" />
<path d="M1476.5,188 L1485.5,186" fill="none" stroke="#000" stroke-width="1.7" stroke-linejoin="round" />
<path d="M1474,200 L1487.8,197" fill="none" stroke="#000" stroke-width="1.7" stroke-linejoin="round" />
<path d="M1474,201.5 L1487.8,200.5" fill="none" stroke="#000" stroke-width="1.7" stroke-linejoin="round" />
<path d="M1454,203.5 L1454.6,225.7 L1458.6,228.8 L1468,254.5 L1471.9,265.5 L1462,267.5 L1452.5,270.8" fill="none" stroke="#000" stroke-width="1.7" stroke-linejoin="round" />
<path d="M1454.6,214.5 L1473,216 L1476.6,209" fill="none" stroke="#000" stroke-width="1.7" stroke-linejoin="round" />
<path d="M1458.6,218 L1475.8,221 L1480.8,222.5 L1486.5,247 L1491,269" fill="none" stroke="#000" stroke-width="1.7" stroke-linejoin="round" />
<path d="M1471.5,208 L1480.8,222.5" fill="none" stroke="#000" stroke-width="1.7" stroke-linejoin="round" />
<path d="M1475.5,222 L1481.5,270.5" fill="none" stroke="#000" stroke-width="1.7" stroke-linejoin="round" />
<path d="M1487.8,200.5 L1488.8,240 L1494,268" fill="none" stroke="#000" stroke-width="1.7" stroke-linejoin="round" />
<path d="M1484,198.5 L1485.5,205 L1492,268" fill="none" stroke="#000" stroke-width="1.7" stroke-linejoin="round" />
<path d="M1452,271.5 L1465,267.8 L1472.5,270 L1481.2,274 L1495.5,271.2 L1500,268.5 L1504.4,270.8 L1504.4,309.4 L1481.2,314.7 L1452,308.7 Z" fill="none" stroke="#000" stroke-width="1.7" stroke-linejoin="round" />
<path d="M1452,271.5 L1481.2,279.5 L1504.4,270.8" fill="none" stroke="#000" stroke-width="1.7" stroke-linejoin="round" />
<path d="M1481.2,279.5 L1481.2,314.7" fill="none" stroke="#000" stroke-width="1.7" stroke-linejoin="round" />
<path d="M1479.2,279 L1479.2,314" fill="none" stroke="#000" stroke-width="1.7" stroke-linejoin="round" />
<path d="M1455,273.5 L1479,281" fill="none" stroke="#000" stroke-width="1.7" stroke-linejoin="round" />
<path d="M1452,308.7 L1481.2,314.7 L1504.4,309.4" fill="none" stroke="#000" stroke-width="2"/>
<path d="M1363.5,164.3 L1378,167.5" fill="none" stroke="#000" stroke-width="3.4"/>
<path d="M1378,167.5 L1387,169.5" fill="none" stroke="#000" stroke-width="1.8"/>
<path d="M1362.5,163 l1.5,3 M1366,163 l1.5,3.5 M1369,163.5 l1.5,3.5 M1372,164 l1.5,3.5 M1375,165 l1.5,3.5" fill="none" stroke="#000" stroke-width="1"/>
<ellipse cx="623.20" cy="510.10" rx="1.80" ry="4.40" fill="none" stroke="#000" stroke-width="1"  />
<ellipse cx="606.80" cy="526.50" rx="1.60" ry="4.20" fill="none" stroke="#000" stroke-width="1"  />
<line x1="625.00" y1="510.60" x2="713.80" y2="521.50" stroke="#000" stroke-width="1" />
<line x1="608.50" y1="526.80" x2="698.00" y2="537.70" stroke="#000" stroke-width="1" />
<line x1="636.70" y1="535.00" x2="622.50" y2="629.50" stroke="#000" stroke-width="1" />
<path d="M721.2,516.5 L776.2,522.44 L776.2,533.44 L721.2,527.5 Q719.6,526.5 719.6,522.0 Q719.6,517.5 721.2,516.5 Z" fill="#fff" stroke="#000" stroke-width="1" stroke-linejoin="round" />
<line x1="725.50" y1="517.76" x2="725.50" y2="527.66" stroke="#000" stroke-width="1.7" />
<line x1="723.70" y1="518.96" x2="723.70" y2="525.96" stroke="#000" stroke-width="0.8" />
<line x1="732.10" y1="518.48" x2="732.10" y2="528.38" stroke="#000" stroke-width="1.7" />
<line x1="730.30" y1="519.68" x2="730.30" y2="526.68" stroke="#000" stroke-width="0.8" />
<line x1="738.60" y1="519.18" x2="738.60" y2="529.08" stroke="#000" stroke-width="1.7" />
<line x1="736.80" y1="520.38" x2="736.80" y2="527.38" stroke="#000" stroke-width="0.8" />
<line x1="745.50" y1="519.92" x2="745.50" y2="529.82" stroke="#000" stroke-width="1.7" />
<line x1="743.70" y1="521.12" x2="743.70" y2="528.12" stroke="#000" stroke-width="0.8" />
<line x1="749.50" y1="521.06" x2="749.50" y2="529.06" stroke="#000" stroke-width="1" />
<line x1="758.00" y1="521.97" x2="758.00" y2="529.97" stroke="#000" stroke-width="1" />
<path d="M775.20,521.93 L785.20,522.61 L785.20,535.61 L775.20,533.73 Z" fill="#000"/>
<g fill="#fff"><rect x="776.70" y="524.33" width="0.9" height="0.9"/><rect x="777.70" y="529.33" width="0.9" height="0.9"/><rect x="779.30" y="527.33" width="0.9" height="0.9"/><rect x="780.30" y="530.83" width="0.9" height="0.9"/><rect x="781.90" y="524.33" width="0.9" height="0.9"/><rect x="782.90" y="529.33" width="0.9" height="0.9"/></g>
<ellipse cx="788.40" cy="529.26" rx="3.30" ry="8.80" fill="#fff" stroke="#000" stroke-width="1.2"  />
<ellipse cx="788.00" cy="529.26" rx="1.60" ry="6.00" fill="none" stroke="#000" stroke-width="1"  />
<path d="M704.8000000000001,532.6 L759.8000000000001,538.54 L759.8000000000001,549.54 L704.8000000000001,543.6 Q703.2,542.6 703.2,538.1 Q703.2,533.6 704.8000000000001,532.6 Z" fill="#fff" stroke="#000" stroke-width="1" stroke-linejoin="round" />
<line x1="709.10" y1="533.86" x2="709.10" y2="543.76" stroke="#000" stroke-width="1.7" />
<line x1="707.30" y1="535.06" x2="707.30" y2="542.06" stroke="#000" stroke-width="0.8" />
<line x1="715.70" y1="534.58" x2="715.70" y2="544.48" stroke="#000" stroke-width="1.7" />
<line x1="713.90" y1="535.78" x2="713.90" y2="542.78" stroke="#000" stroke-width="0.8" />
<line x1="722.20" y1="535.28" x2="722.20" y2="545.18" stroke="#000" stroke-width="1.7" />
<line x1="720.40" y1="536.48" x2="720.40" y2="543.48" stroke="#000" stroke-width="0.8" />
<line x1="729.10" y1="536.02" x2="729.10" y2="545.92" stroke="#000" stroke-width="1.7" />
<line x1="727.30" y1="537.22" x2="727.30" y2="544.22" stroke="#000" stroke-width="0.8" />
<line x1="733.10" y1="537.16" x2="733.10" y2="545.16" stroke="#000" stroke-width="1" />
<line x1="741.60" y1="538.07" x2="741.60" y2="546.07" stroke="#000" stroke-width="1" />
<path d="M758.80,538.03 L768.80,538.71 L768.80,551.71 L758.80,549.83 Z" fill="#000"/>
<g fill="#fff"><rect x="760.30" y="540.43" width="0.9" height="0.9"/><rect x="761.30" y="545.43" width="0.9" height="0.9"/><rect x="762.90" y="543.43" width="0.9" height="0.9"/><rect x="763.90" y="546.93" width="0.9" height="0.9"/><rect x="765.50" y="540.43" width="0.9" height="0.9"/><rect x="766.50" y="545.43" width="0.9" height="0.9"/></g>
<ellipse cx="772.00" cy="545.36" rx="3.30" ry="8.80" fill="#fff" stroke="#000" stroke-width="1.2"  />
<ellipse cx="771.60" cy="545.36" rx="1.60" ry="6.00" fill="none" stroke="#000" stroke-width="1"  />
<line x1="811.40" y1="533.50" x2="866.60" y2="539.60" stroke="#000" stroke-width="1" />
<line x1="800.00" y1="549.30" x2="849.60" y2="555.50" stroke="#000" stroke-width="1" />
<line x1="926.70" y1="546.90" x2="957.60" y2="550.40" stroke="#000" stroke-width="1" />
<line x1="1053.50" y1="561.50" x2="1062.00" y2="562.60" stroke="#000" stroke-width="1" />
<line x1="893.40" y1="561.50" x2="940.60" y2="567.70" stroke="#000" stroke-width="1" />
<line x1="1037.20" y1="578.60" x2="1054.30" y2="580.20" stroke="#000" stroke-width="1" />
<path d="M903.4,525.5 L869.2,550.3 L884.7,553.1 L892.2,560.6 L902.5,551.25 Z" fill="#fff" stroke="none"/>
<path d="M903.4,525.5 L914.7,526.4 Q922.5,528.5 926.9,532.5 Q928.5,536.5 927.3,541 Q926.5,545 925,547.5 Q921.5,551.5 917.5,553.1 L902.5,551.25 Z" fill="#fff" stroke="#000" stroke-width="1" stroke-linejoin="round" />
<path d="M869.2,550.3 L884.7,553.1 Q890.5,556 892.7,560.6 Q893.8,565 893.1,570 Q890.5,575 886.6,578.4 L868.0,577.5 Z" fill="#fff" stroke="#000" stroke-width="1" stroke-linejoin="round" />
<line x1="903.40" y1="525.50" x2="869.20" y2="550.30" stroke="#000" stroke-width="1" />
<line x1="903.40" y1="527.80" x2="870.00" y2="552.00" stroke="#000" stroke-width="1" />
<line x1="902.50" y1="551.25" x2="892.20" y2="560.60" stroke="#000" stroke-width="1" />
<line x1="869.20" y1="550.30" x2="868.00" y2="577.50" stroke="#000" stroke-width="1.6" />
<ellipse cx="918.40" cy="540.50" rx="1.80" ry="1.80" fill="none" stroke="#000" stroke-width="1"  />
<ellipse cx="895.90" cy="543.80" rx="1.50" ry="3.00" fill="none" stroke="#000" stroke-width="1.1"  />
<line x1="895.90" y1="543.80" x2="902.50" y2="544.60" stroke="#000" stroke-width="1" />
<circle cx="884.7" cy="565.8" r="2.3" fill="#000"/>
<circle cx="884.2" cy="565.4" r="0.8" fill="#fff"/>
<line x1="884.70" y1="565.80" x2="870.50" y2="576.80" stroke="#000" stroke-width="1" />
<line x1="868.20" y1="578.20" x2="930.00" y2="599.70" stroke="#000" stroke-width="1" />
<line x1="930.00" y1="599.70" x2="1042.40" y2="638.20" stroke="#000" stroke-width="1" />
<line x1="928.40" y1="528.20" x2="1060.00" y2="520.00" stroke="#000" stroke-width="1" />
<line x1="1060.00" y1="520.00" x2="1184.00" y2="513.50" stroke="#000" stroke-width="1" />
<polygon points="968.00,552.10 975.25,550.30 1039.84,557.37 1039.21,562.93 974.67,555.47" fill="#fff" stroke="#000" stroke-width="1" stroke-linejoin="round" />
<line x1="978.72" y1="550.69" x2="978.74" y2="555.93" stroke="#000" stroke-width="1.5" />
<line x1="981.81" y1="551.04" x2="981.82" y2="556.27" stroke="#000" stroke-width="1.5" />
<line x1="984.89" y1="551.38" x2="984.90" y2="556.62" stroke="#000" stroke-width="1.5" />
<line x1="987.97" y1="551.73" x2="987.98" y2="556.97" stroke="#000" stroke-width="1.5" />
<line x1="991.05" y1="552.08" x2="991.06" y2="557.31" stroke="#000" stroke-width="1.5" />
<line x1="994.13" y1="552.43" x2="994.14" y2="557.66" stroke="#000" stroke-width="1.5" />
<line x1="997.21" y1="552.77" x2="997.22" y2="558.01" stroke="#000" stroke-width="1.5" />
<line x1="1000.29" y1="553.12" x2="1000.30" y2="558.35" stroke="#000" stroke-width="1.5" />
<line x1="1003.37" y1="553.47" x2="1003.38" y2="558.70" stroke="#000" stroke-width="1.5" />
<line x1="1006.45" y1="553.81" x2="1006.46" y2="559.05" stroke="#000" stroke-width="1.5" />
<line x1="1009.53" y1="554.16" x2="1009.54" y2="559.39" stroke="#000" stroke-width="1.5" />
<line x1="1012.61" y1="554.51" x2="1012.63" y2="559.74" stroke="#000" stroke-width="1.5" />
<line x1="1015.69" y1="554.85" x2="1015.71" y2="560.09" stroke="#000" stroke-width="1.5" />
<line x1="1018.77" y1="555.20" x2="1018.79" y2="560.43" stroke="#000" stroke-width="1.5" />
<line x1="1021.85" y1="555.55" x2="1021.87" y2="560.78" stroke="#000" stroke-width="1.5" />
<ellipse cx="1041.51" cy="560.38" rx="2.40" ry="6.60" fill="#000" stroke="#000" stroke-width="1" transform="rotate(6.42347043655657 1041.51 560.38)" />
<ellipse cx="1041.31" cy="560.38" rx="0.90" ry="3.60" fill="#fff" stroke="#fff" stroke-width="0.6" transform="rotate(6.42347043655657 1041.31 560.38)" />
<polygon points="951.20,568.20 958.47,566.48 1023.87,574.33 1023.19,579.89 957.83,571.64" fill="#fff" stroke="#000" stroke-width="1" stroke-linejoin="round" />
<line x1="961.94" y1="566.90" x2="961.90" y2="572.14" stroke="#000" stroke-width="1.5" />
<line x1="965.02" y1="567.28" x2="964.98" y2="572.52" stroke="#000" stroke-width="1.5" />
<line x1="968.09" y1="567.66" x2="968.05" y2="572.90" stroke="#000" stroke-width="1.5" />
<line x1="971.17" y1="568.04" x2="971.13" y2="573.27" stroke="#000" stroke-width="1.5" />
<line x1="974.25" y1="568.42" x2="974.21" y2="573.65" stroke="#000" stroke-width="1.5" />
<line x1="977.32" y1="568.80" x2="977.28" y2="574.03" stroke="#000" stroke-width="1.5" />
<line x1="980.40" y1="569.18" x2="980.36" y2="574.41" stroke="#000" stroke-width="1.5" />
<line x1="983.48" y1="569.56" x2="983.44" y2="574.79" stroke="#000" stroke-width="1.5" />
<line x1="986.55" y1="569.94" x2="986.51" y2="575.17" stroke="#000" stroke-width="1.5" />
<line x1="989.63" y1="570.31" x2="989.59" y2="575.55" stroke="#000" stroke-width="1.5" />
<line x1="992.71" y1="570.69" x2="992.67" y2="575.93" stroke="#000" stroke-width="1.5" />
<line x1="995.78" y1="571.07" x2="995.74" y2="576.31" stroke="#000" stroke-width="1.5" />
<line x1="998.86" y1="571.45" x2="998.82" y2="576.69" stroke="#000" stroke-width="1.5" />
<line x1="1001.94" y1="571.83" x2="1001.90" y2="577.07" stroke="#000" stroke-width="1.5" />
<line x1="1005.01" y1="572.21" x2="1004.97" y2="577.44" stroke="#000" stroke-width="1.5" />
<ellipse cx="1025.52" cy="577.36" rx="2.40" ry="6.60" fill="#000" stroke="#000" stroke-width="1" transform="rotate(7.023329851173153 1025.52 577.36)" />
<ellipse cx="1025.32" cy="577.36" rx="0.90" ry="3.60" fill="#fff" stroke="#fff" stroke-width="0.6" transform="rotate(7.023329851173153 1025.32 577.36)" />
<path d="M1106.5,526.9 Q1080,530 1084.7,585 Q1088,640 1104,641.9 L1123.5,643.6" fill="#fff" stroke="#000" stroke-width="1" stroke-linejoin="round" />
<path d="M1106.5,526.9 L1135.6,529.3" fill="none" stroke="#000" stroke-width="1" stroke-linejoin="round" />
<ellipse cx="1127.10" cy="586.40" rx="19.60" ry="57.40" fill="#fff" stroke="#000" stroke-width="1"  />
<ellipse cx="1129.50" cy="586.40" rx="15.50" ry="52.50" fill="none" stroke="#000" stroke-width="1"  />
<circle cx="1096.40" cy="591.70" r="2.30" fill="none" stroke="#000" stroke-width="1" />
<path d="M1128.3,577.7 L1184,581.3 L1191.3,586 L1190,603.1 L1128.3,598 Z" fill="#fff" stroke="#000" stroke-width="1"/>
<rect x="1128.30" y="580.00" width="11.00" height="15.00" fill="none" stroke="#000" stroke-width="1" />
<line x1="1140.00" y1="579.00" x2="1140.00" y2="597.50" stroke="#000" stroke-width="1" />
<path d="M1173,581 L1179,583 L1189,585 M1181,600 L1186,593 L1191,592" fill="none" stroke="#000" stroke-width="1" stroke-linejoin="round" />
<line x1="1096.40" y1="591.70" x2="1033.90" y2="645.50" stroke="#000" stroke-width="1" />
<line x1="1188.90" y1="509.90" x2="1147.70" y2="546.20" stroke="#000" stroke-width="1" />
<line x1="1115.00" y1="477.20" x2="1165.90" y2="506.30" stroke="#000" stroke-width="1" />
<path d="M1019.3,650.5 L1021,646 L1024,644.8 L1030,644.3 L1032.5,643.5 L1035.8,645 L1035.8,650.5 L1034,652.5 L1034,658.5 L1031.5,660.5 L1025.5,661 L1021.5,659.5 L1019.5,656 Z" fill="#000"/>
<circle cx="1025.00" cy="654.60" r="5.00" fill="#fff" stroke="#000" stroke-width="1.0" />
<ellipse cx="1024.80" cy="654.50" rx="3.60" ry="3.20" fill="none" stroke="#000" stroke-width="0.9"  />
<line x1="1021.60" y1="651.50" x2="1028.20" y2="657.80" stroke="#000" stroke-width="1" />
<line x1="1022.00" y1="657.20" x2="1027.80" y2="651.80" stroke="#000" stroke-width="1" />
<path d="M1026,646.5 L1031,645.2 L1031,647.5 L1027,648.5 Z" fill="#fff"/>
<circle cx="1199.20" cy="501.00" r="7.40" fill="#fff" stroke="#000" stroke-width="1.8" />
<circle cx="1197.3" cy="503.2" r="4.7" fill="#000"/>
<ellipse cx="1191.60" cy="506.60" rx="3.00" ry="2.60" fill="#fff" stroke="#000" stroke-width="1.6"  />
<line x1="1190.80" y1="507.50" x2="1192.50" y2="505.80" stroke="#000" stroke-width="0.8" />
<path d="M1087.2,632.2 L1078,634 Q1075,635 1075,640 L1075,669.7 L1046,701.2" fill="none" stroke="#000" stroke-width="1" stroke-linejoin="round" />
<circle cx="1027.10" cy="707.20" r="18.80" fill="none" stroke="#000" stroke-width="1" />
<line x1="1027.10" y1="692.70" x2="1027.10" y2="708.50" stroke="#000" stroke-width="1" />
<line x1="1012.00" y1="708.50" x2="1043.60" y2="708.50" stroke="#000" stroke-width="1" />
<line x1="1016.00" y1="713.30" x2="1039.00" y2="713.30" stroke="#000" stroke-width="1" />
<line x1="1020.00" y1="718.10" x2="1034.00" y2="718.10" stroke="#000" stroke-width="1" />
<line x1="1347.20" y1="535.80" x2="1310.00" y2="573.00" stroke="#000" stroke-width="1" />
<path d="M1186,577 L1190.5,574.5 L1196,575.5 L1203,592 L1200,593.5 L1190,593.5 L1187.5,590 Z" fill="#fff" stroke="#000" stroke-width="1" stroke-linejoin="round" />
<path d="M1190.5,574.5 L1193,587 L1197.5,593.5" fill="none" stroke="#000" stroke-width="1" stroke-linejoin="round" />
<path d="M1190.6,535.3 L1212.7,520.3 L1214.5,520.3 L1221.6,532 L1198.1,547 Z" fill="#fff" stroke="#000" stroke-width="1" stroke-linejoin="round" />
<path d="M1192,533 L1212,520.8 M1193,534.5 L1213,522.5" fill="none" stroke="#000" stroke-width="1" stroke-linejoin="round" />
<path d="M1186.4,552.7 L1197,546.5 L1222.5,529.7 L1232.8,525.5 L1267,577.5 Q1242,598 1214,608 L1193.4,570 Z" fill="#fff" stroke="#000" stroke-width="1" stroke-linejoin="round" />
<path d="M1193,569.5 Q1220,560 1244,540" fill="none" stroke="#000" stroke-width="1" stroke-linejoin="round" />
<path d="M1186.4,552.7 L1193.4,570" fill="none" stroke="#000" stroke-width="1" stroke-linejoin="round" />
<path d="M1197,546.5 Q1212,541 1222.5,535" fill="none" stroke="#000" stroke-width="1" stroke-linejoin="round" />
<path d="M1214,608 L1214.5,613 Q1245,602 1271,580.5 L1267,577.5" fill="#fff" stroke="#000" stroke-width="1" stroke-linejoin="round" />
<path d="M1215,616 Q1246,605 1274,583" fill="none" stroke="#000" stroke-width="1" stroke-linejoin="round" />
<polygon points="1243.03,712.11 1345.43,654.71 1343.97,652.09 1241.57,709.49" fill="#fff" stroke="none" stroke-width="0" stroke-linejoin="round" />
<line x1="1243.03" y1="712.11" x2="1345.43" y2="654.71" stroke="#000" stroke-width="1.0" />
<line x1="1241.57" y1="709.49" x2="1343.97" y2="652.09" stroke="#000" stroke-width="1.0" />
<polygon points="1345.15,654.83 1383.45,642.73 1382.55,639.87 1344.25,651.97" fill="#fff" stroke="none" stroke-width="0" stroke-linejoin="round" />
<line x1="1345.15" y1="654.83" x2="1383.45" y2="642.73" stroke="#000" stroke-width="1.0" />
<line x1="1344.25" y1="651.97" x2="1382.55" y2="639.87" stroke="#000" stroke-width="1.0" />
<polygon points="1242.07,712.28 1317.07,723.68 1317.53,720.72 1242.53,709.32" fill="#fff" stroke="none" stroke-width="0" stroke-linejoin="round" />
<line x1="1242.07" y1="712.28" x2="1317.07" y2="723.68" stroke="#000" stroke-width="1.0" />
<line x1="1242.53" y1="709.32" x2="1317.53" y2="720.72" stroke="#000" stroke-width="1.0" />
<polygon points="1317.60,723.67 1363.70,714.27 1363.10,711.33 1317.00,720.73" fill="#fff" stroke="none" stroke-width="0" stroke-linejoin="round" />
<line x1="1317.60" y1="723.67" x2="1363.70" y2="714.27" stroke="#000" stroke-width="1.0" />
<line x1="1317.00" y1="720.73" x2="1363.10" y2="711.33" stroke="#000" stroke-width="1.0" />
<polygon points="1318.73,722.67 1334.63,673.97 1331.77,673.03 1315.87,721.73" fill="#fff" stroke="none" stroke-width="0" stroke-linejoin="round" />
<line x1="1318.73" y1="722.67" x2="1334.63" y2="673.97" stroke="#000" stroke-width="1.0" />
<line x1="1315.87" y1="721.73" x2="1331.77" y2="673.03" stroke="#000" stroke-width="1.0" />
<polygon points="1332.01,674.41 1362.21,713.71 1364.59,711.89 1334.39,672.59" fill="#fff" stroke="none" stroke-width="0" stroke-linejoin="round" />
<line x1="1332.01" y1="674.41" x2="1362.21" y2="713.71" stroke="#000" stroke-width="1.0" />
<line x1="1334.39" y1="672.59" x2="1364.59" y2="711.89" stroke="#000" stroke-width="1.0" />
<polygon points="1350.04,661.15 1385.14,690.55 1387.06,688.25 1351.96,658.85" fill="#fff" stroke="none" stroke-width="0" stroke-linejoin="round" />
<line x1="1350.04" y1="661.15" x2="1385.14" y2="690.55" stroke="#000" stroke-width="1.0" />
<line x1="1351.96" y1="658.85" x2="1387.06" y2="688.25" stroke="#000" stroke-width="1.0" />
<polygon points="1275.53,584.65 1349.93,661.05 1352.07,658.95 1277.67,582.55" fill="#fff" stroke="none" stroke-width="0" stroke-linejoin="round" />
<line x1="1275.53" y1="584.65" x2="1349.93" y2="661.05" stroke="#000" stroke-width="1.0" />
<line x1="1277.67" y1="582.55" x2="1352.07" y2="658.95" stroke="#000" stroke-width="1.0" />
<polygon points="1272.78,592.38 1331.98,674.38 1334.42,672.62 1275.22,590.62" fill="#fff" stroke="none" stroke-width="0" stroke-linejoin="round" />
<line x1="1272.78" y1="592.38" x2="1331.98" y2="674.38" stroke="#000" stroke-width="1.0" />
<line x1="1275.22" y1="590.62" x2="1334.42" y2="672.62" stroke="#000" stroke-width="1.0" />
<polygon points="1213.53,623.30 1224.03,675.30 1226.97,674.70 1216.47,622.70" fill="#fff" stroke="none" stroke-width="0" stroke-linejoin="round" />
<line x1="1213.53" y1="623.30" x2="1224.03" y2="675.30" stroke="#000" stroke-width="1.0" />
<line x1="1216.47" y1="622.70" x2="1226.97" y2="674.70" stroke="#000" stroke-width="1.0" />
<polygon points="1224.07,675.45 1239.57,724.45 1242.43,723.55 1226.93,674.55" fill="#fff" stroke="none" stroke-width="0" stroke-linejoin="round" />
<line x1="1224.07" y1="675.45" x2="1239.57" y2="724.45" stroke="#000" stroke-width="1.0" />
<line x1="1226.93" y1="674.55" x2="1242.43" y2="723.55" stroke="#000" stroke-width="1.0" />
<polygon points="1239.57,724.46 1253.17,767.16 1256.03,766.24 1242.43,723.54" fill="#fff" stroke="none" stroke-width="0" stroke-linejoin="round" />
<line x1="1239.57" y1="724.46" x2="1253.17" y2="767.16" stroke="#000" stroke-width="1.0" />
<line x1="1242.43" y1="723.54" x2="1256.03" y2="766.24" stroke="#000" stroke-width="1.0" />
<polygon points="1223.13,622.58 1233.23,675.28 1236.17,674.72 1226.07,622.02" fill="#fff" stroke="none" stroke-width="0" stroke-linejoin="round" />
<line x1="1223.13" y1="622.58" x2="1233.23" y2="675.28" stroke="#000" stroke-width="1.0" />
<line x1="1226.07" y1="622.02" x2="1236.17" y2="674.72" stroke="#000" stroke-width="1.0" />
<polygon points="1233.23,675.31 1240.83,711.11 1243.77,710.49 1236.17,674.69" fill="#fff" stroke="none" stroke-width="0" stroke-linejoin="round" />
<line x1="1233.23" y1="675.31" x2="1240.83" y2="711.11" stroke="#000" stroke-width="1.0" />
<line x1="1236.17" y1="674.69" x2="1243.77" y2="710.49" stroke="#000" stroke-width="1.0" />
<polygon points="1230.29,627.52 1247.89,675.52 1250.71,674.48 1233.11,626.48" fill="#fff" stroke="none" stroke-width="0" stroke-linejoin="round" />
<line x1="1230.29" y1="627.52" x2="1247.89" y2="675.52" stroke="#000" stroke-width="1.0" />
<line x1="1233.11" y1="626.48" x2="1250.71" y2="674.48" stroke="#000" stroke-width="1.0" />
<polygon points="1247.93,675.62 1264.63,712.62 1267.37,711.38 1250.67,674.38" fill="#fff" stroke="none" stroke-width="0" stroke-linejoin="round" />
<line x1="1247.93" y1="675.62" x2="1264.63" y2="712.62" stroke="#000" stroke-width="1.0" />
<line x1="1250.67" y1="674.38" x2="1267.37" y2="711.38" stroke="#000" stroke-width="1.0" />
<polygon points="1264.58,712.48 1280.88,760.28 1283.72,759.32 1267.42,711.52" fill="#fff" stroke="none" stroke-width="0" stroke-linejoin="round" />
<line x1="1264.58" y1="712.48" x2="1280.88" y2="760.28" stroke="#000" stroke-width="1.0" />
<line x1="1267.42" y1="711.52" x2="1283.72" y2="759.32" stroke="#000" stroke-width="1.0" />
<polygon points="1246.53,607.86 1298.73,697.06 1301.67,695.34 1249.47,606.14" fill="#fff" stroke="none" stroke-width="0" stroke-linejoin="round" />
<line x1="1246.53" y1="607.86" x2="1298.73" y2="697.06" stroke="#000" stroke-width="1.0" />
<line x1="1249.47" y1="606.14" x2="1301.67" y2="695.34" stroke="#000" stroke-width="1.0" />
<polygon points="1280.57,581.54 1382.07,642.84 1383.93,639.76 1282.43,578.46" fill="#fff" stroke="none" stroke-width="0" stroke-linejoin="round" />
<line x1="1280.57" y1="581.54" x2="1382.07" y2="642.84" stroke="#000" stroke-width="1.0" />
<line x1="1282.43" y1="578.46" x2="1383.93" y2="639.76" stroke="#000" stroke-width="1.0" />
<polygon points="1213.87,742.05 1243.37,711.85 1241.23,709.75 1211.73,739.95" fill="#fff" stroke="none" stroke-width="0" stroke-linejoin="round" />
<line x1="1213.87" y1="742.05" x2="1243.37" y2="711.85" stroke="#000" stroke-width="1.0" />
<line x1="1211.73" y1="739.95" x2="1241.23" y2="709.75" stroke="#000" stroke-width="1.0" />
<polygon points="1213.48,742.33 1300.88,697.53 1299.52,694.87 1212.12,739.67" fill="#fff" stroke="none" stroke-width="0" stroke-linejoin="round" />
<line x1="1213.48" y1="742.33" x2="1300.88" y2="697.53" stroke="#000" stroke-width="1.0" />
<line x1="1212.12" y1="739.67" x2="1299.52" y2="694.87" stroke="#000" stroke-width="1.0" />
<polygon points="1301.03,697.45 1383.83,642.55 1382.17,640.05 1299.37,694.95" fill="#fff" stroke="none" stroke-width="0" stroke-linejoin="round" />
<line x1="1301.03" y1="697.45" x2="1383.83" y2="642.55" stroke="#000" stroke-width="1.0" />
<line x1="1299.37" y1="694.95" x2="1382.17" y2="640.05" stroke="#000" stroke-width="1.0" />
<polygon points="1381.55,640.90 1361.95,712.40 1364.85,713.20 1384.45,641.70" fill="#fff" stroke="none" stroke-width="0" stroke-linejoin="round" />
<line x1="1381.55" y1="640.90" x2="1361.95" y2="712.40" stroke="#000" stroke-width="1.0" />
<line x1="1384.45" y1="641.70" x2="1364.85" y2="713.20" stroke="#000" stroke-width="1.0" />
<polygon points="1381.20,641.42 1384.30,689.52 1387.90,689.28 1384.80,641.18" fill="#fff" stroke="none" stroke-width="0" stroke-linejoin="round" />
<line x1="1381.20" y1="641.42" x2="1384.30" y2="689.52" stroke="#000" stroke-width="1.0" />
<line x1="1384.80" y1="641.18" x2="1387.90" y2="689.28" stroke="#000" stroke-width="1.0" />
<polygon points="1385.02,688.36 1362.32,711.76 1364.48,713.84 1387.18,690.44" fill="#fff" stroke="none" stroke-width="0" stroke-linejoin="round" />
<line x1="1385.02" y1="688.36" x2="1362.32" y2="711.76" stroke="#000" stroke-width="1.0" />
<line x1="1387.18" y1="690.44" x2="1364.48" y2="713.84" stroke="#000" stroke-width="1.0" />
<polygon points="1362.65,711.50 1281.55,758.50 1283.05,761.10 1364.15,714.10" fill="#fff" stroke="none" stroke-width="0" stroke-linejoin="round" />
<line x1="1362.65" y1="711.50" x2="1281.55" y2="758.50" stroke="#000" stroke-width="1.0" />
<line x1="1364.15" y1="714.10" x2="1283.05" y2="761.10" stroke="#000" stroke-width="1.0" />
<polygon points="1281.94,758.34 1254.24,765.24 1254.96,768.16 1282.66,761.26" fill="#fff" stroke="none" stroke-width="0" stroke-linejoin="round" />
<line x1="1281.94" y1="758.34" x2="1254.24" y2="765.24" stroke="#000" stroke-width="1.0" />
<line x1="1282.66" y1="761.26" x2="1254.96" y2="768.16" stroke="#000" stroke-width="1.0" />
<polygon points="1255.39,765.42 1213.59,739.72 1212.01,742.28 1253.81,767.98" fill="#fff" stroke="none" stroke-width="0" stroke-linejoin="round" />
<line x1="1255.39" y1="765.42" x2="1213.59" y2="739.72" stroke="#000" stroke-width="1.0" />
<line x1="1253.81" y1="767.98" x2="1212.01" y2="742.28" stroke="#000" stroke-width="1.0" />
<polygon points="1298.76,695.79 1280.86,759.39 1283.74,760.21 1301.64,696.61" fill="#fff" stroke="none" stroke-width="0" stroke-linejoin="round" />
<line x1="1298.76" y1="695.79" x2="1280.86" y2="759.39" stroke="#000" stroke-width="1.0" />
<line x1="1301.64" y1="696.61" x2="1283.74" y2="760.21" stroke="#000" stroke-width="1.0" />
<polygon points="1212.41,742.45 1281.91,761.25 1282.69,758.35 1213.19,739.55" fill="#fff" stroke="none" stroke-width="0" stroke-linejoin="round" />
<line x1="1212.41" y1="742.45" x2="1281.91" y2="761.25" stroke="#000" stroke-width="1.0" />
<line x1="1213.19" y1="739.55" x2="1282.69" y2="758.35" stroke="#000" stroke-width="1.0" />
<polygon points="1299.82,697.65 1363.02,714.25 1363.78,711.35 1300.58,694.75" fill="#fff" stroke="none" stroke-width="0" stroke-linejoin="round" />
<line x1="1299.82" y1="697.65" x2="1363.02" y2="714.25" stroke="#000" stroke-width="1.0" />
<line x1="1300.58" y1="694.75" x2="1363.78" y2="711.35" stroke="#000" stroke-width="1.0" />
<polygon points="1298.95,697.02 1316.05,723.02 1318.55,721.38 1301.45,695.38" fill="#fff" stroke="none" stroke-width="0" stroke-linejoin="round" />
<line x1="1298.95" y1="697.02" x2="1316.05" y2="723.02" stroke="#000" stroke-width="1.0" />
<line x1="1301.45" y1="695.38" x2="1318.55" y2="721.38" stroke="#000" stroke-width="1.0" />
<polygon points="1209.50,623.02 1210.30,741.02 1215.30,740.98 1214.50,622.98" fill="#fff" stroke="none" stroke-width="0" stroke-linejoin="round" />
<line x1="1209.50" y1="623.02" x2="1210.30" y2="741.02" stroke="#000" stroke-width="1.0" />
<line x1="1214.50" y1="622.98" x2="1215.30" y2="740.98" stroke="#000" stroke-width="1.0" />
<polygon points="1214.06,619.27 1229.06,612.27 1226.94,607.73 1211.94,614.73" fill="#fff" stroke="none" stroke-width="0" stroke-linejoin="round" />
<line x1="1214.06" y1="619.27" x2="1229.06" y2="612.27" stroke="#000" stroke-width="1.0" />
<line x1="1211.94" y1="614.73" x2="1226.94" y2="607.73" stroke="#000" stroke-width="1.0" />
<polygon points="1229.12,612.24 1247.12,603.24 1244.88,598.76 1226.88,607.76" fill="#fff" stroke="none" stroke-width="0" stroke-linejoin="round" />
<line x1="1229.12" y1="612.24" x2="1247.12" y2="603.24" stroke="#000" stroke-width="1.0" />
<line x1="1226.88" y1="607.76" x2="1244.88" y2="598.76" stroke="#000" stroke-width="1.0" />
<polygon points="1247.32,603.12 1263.32,593.12 1260.68,588.88 1244.68,598.88" fill="#fff" stroke="none" stroke-width="0" stroke-linejoin="round" />
<line x1="1247.32" y1="603.12" x2="1263.32" y2="593.12" stroke="#000" stroke-width="1.0" />
<line x1="1244.68" y1="598.88" x2="1260.68" y2="588.88" stroke="#000" stroke-width="1.0" />
<polygon points="1263.50,593.00 1275.50,584.00 1272.50,580.00 1260.50,589.00" fill="#fff" stroke="none" stroke-width="0" stroke-linejoin="round" />
<line x1="1263.50" y1="593.00" x2="1275.50" y2="584.00" stroke="#000" stroke-width="1.0" />
<line x1="1260.50" y1="589.00" x2="1272.50" y2="580.00" stroke="#000" stroke-width="1.0" />
<polygon points="1274.54,584.44 1283.54,582.44 1282.46,577.56 1273.46,579.56" fill="#fff" stroke="none" stroke-width="0" stroke-linejoin="round" />
<line x1="1274.54" y1="584.44" x2="1283.54" y2="582.44" stroke="#000" stroke-width="1.0" />
<line x1="1273.46" y1="579.56" x2="1282.46" y2="577.56" stroke="#000" stroke-width="1.0" />
<g transform="rotate(-28 1222.5 618.5)"><rect x="1219.00" y="615.00" width="7" height="7" rx="1.5" fill="#fff" stroke="#000" stroke-width="1.6"/><rect x="1220.50" y="616.60" width="3.00" height="3.80" fill="none" stroke="#000" stroke-width="0.9"/></g>
<g transform="rotate(-28 1240 617)"><rect x="1230.00" y="612.50" width="20" height="9" rx="1.5" fill="#fff" stroke="#000" stroke-width="1.6"/><rect x="1231.50" y="614.10" width="4.67" height="5.80" fill="none" stroke="#000" stroke-width="0.9"/><rect x="1237.17" y="614.10" width="4.67" height="5.80" fill="none" stroke="#000" stroke-width="0.9"/><rect x="1242.83" y="614.10" width="4.67" height="5.80" fill="none" stroke="#000" stroke-width="0.9"/></g>
<g transform="rotate(-28 1261.5 604)"><rect x="1251.50" y="599.50" width="20" height="9" rx="1.5" fill="#fff" stroke="#000" stroke-width="1.6"/><rect x="1253.00" y="601.10" width="4.67" height="5.80" fill="none" stroke="#000" stroke-width="0.9"/><rect x="1258.67" y="601.10" width="4.67" height="5.80" fill="none" stroke="#000" stroke-width="0.9"/><rect x="1264.33" y="601.10" width="4.67" height="5.80" fill="none" stroke="#000" stroke-width="0.9"/></g>
<g transform="rotate(-28 1277 589)"><rect x="1273.00" y="586.00" width="8" height="6" rx="1.5" fill="#fff" stroke="#000" stroke-width="1.6"/><rect x="1274.50" y="587.60" width="4.00" height="2.80" fill="none" stroke="#000" stroke-width="0.9"/></g>
<path d="M686,909 L685.8,921 Q686.5,925 690,929 Q694.8,934 695.3,939 Q695,944 692,950" fill="none" stroke="#000" stroke-width="2.4" stroke-linejoin="round" />
<rect x="685.3" y="913.5" width="1" height="5" fill="#fff"/><rect x="694.6" y="938" width="1" height="2" fill="#fff"/>
<line x1="723.90" y1="927.40" x2="793.60" y2="927.40" stroke="#000" stroke-width="1" />
<line x1="723.10" y1="938.30" x2="793.60" y2="938.30" stroke="#000" stroke-width="1" />
<path d="M808.8,905.6 L796,911.5 Q793.6,913 793.6,920 L793.6,947 Q793.6,953 796,955.1 L808.8,961" fill="#fff" stroke="#000" stroke-width="1" stroke-linejoin="round" />
<path d="M808.8,905.6 Q801,933 808.8,961" fill="none" stroke="#000" stroke-width="1" stroke-linejoin="round" />
<rect x="808.80" y="905.60" width="32.70" height="55.40" fill="#fff" stroke="#000" stroke-width="1" />
<ellipse cx="844.90" cy="933.30" rx="5.20" ry="30.20" fill="#fff" stroke="#000" stroke-width="1"  />
<ellipse cx="844.60" cy="933.30" rx="3.40" ry="26.50" fill="none" stroke="#000" stroke-width="1"  />
<ellipse cx="844.30" cy="933.30" rx="1.40" ry="22.00" fill="#000" stroke="#000" stroke-width="1"  />
<line x1="850.80" y1="932.10" x2="866.70" y2="932.10" stroke="#000" stroke-width="1" />
<polygon points="866.70,932.10 885.20,928.20 885.20,937.50" fill="#fff" stroke="#000" stroke-width="1" stroke-linejoin="round" />
<path d="M866.7,932.1 L872,930.6 L872,933.6 Z" fill="#000"/>
<line x1="885.20" y1="932.10" x2="895.30" y2="932.10" stroke="#000" stroke-width="1" />
<line x1="899.30" y1="933.20" x2="1016.00" y2="933.20" stroke="#000" stroke-width="1" />
<polygon points="908.85,930.39 993.65,920.79 993.35,918.21 908.55,927.81" fill="#fff" stroke="none" stroke-width="0" stroke-linejoin="round" />
<line x1="908.85" y1="930.39" x2="993.65" y2="920.79" stroke="#000" stroke-width="1.0" />
<line x1="908.55" y1="927.81" x2="993.35" y2="918.21" stroke="#000" stroke-width="1.0" />
<polygon points="993.32,920.79 1035.82,926.79 1036.18,924.21 993.68,918.21" fill="#fff" stroke="none" stroke-width="0" stroke-linejoin="round" />
<line x1="993.32" y1="920.79" x2="1035.82" y2="926.79" stroke="#000" stroke-width="1.0" />
<line x1="993.68" y1="918.21" x2="1036.18" y2="924.21" stroke="#000" stroke-width="1.0" />
<polygon points="908.53,939.29 974.13,948.19 974.47,945.61 908.87,936.71" fill="#fff" stroke="none" stroke-width="0" stroke-linejoin="round" />
<line x1="908.53" y1="939.29" x2="974.13" y2="948.19" stroke="#000" stroke-width="1.0" />
<line x1="908.87" y1="936.71" x2="974.47" y2="945.61" stroke="#000" stroke-width="1.0" />
<polygon points="974.43,948.19 1023.03,943.39 1022.77,940.81 974.17,945.61" fill="#fff" stroke="none" stroke-width="0" stroke-linejoin="round" />
<line x1="974.43" y1="948.19" x2="1023.03" y2="943.39" stroke="#000" stroke-width="1.0" />
<line x1="974.17" y1="945.61" x2="1022.77" y2="940.81" stroke="#000" stroke-width="1.0" />
<polygon points="909.45,911.66 990.15,854.26 988.65,852.14 907.95,909.54" fill="#fff" stroke="none" stroke-width="0" stroke-linejoin="round" />
<line x1="909.45" y1="911.66" x2="990.15" y2="854.26" stroke="#000" stroke-width="1.0" />
<line x1="907.95" y1="909.54" x2="988.65" y2="852.14" stroke="#000" stroke-width="1.0" />
<polygon points="909.41,915.09 979.11,869.29 977.69,867.11 907.99,912.91" fill="#fff" stroke="none" stroke-width="0" stroke-linejoin="round" />
<line x1="909.41" y1="915.09" x2="979.11" y2="869.29" stroke="#000" stroke-width="1.0" />
<line x1="907.99" y1="912.91" x2="977.69" y2="867.11" stroke="#000" stroke-width="1.0" />
<polygon points="907.87,954.00 980.27,1013.50 981.93,1011.50 909.53,952.00" fill="#fff" stroke="none" stroke-width="0" stroke-linejoin="round" />
<line x1="907.87" y1="954.00" x2="980.27" y2="1013.50" stroke="#000" stroke-width="1.0" />
<line x1="909.53" y1="952.00" x2="981.93" y2="1011.50" stroke="#000" stroke-width="1.0" />
<polygon points="908.12,957.66 991.52,999.36 992.68,997.04 909.28,955.34" fill="#fff" stroke="none" stroke-width="0" stroke-linejoin="round" />
<line x1="908.12" y1="957.66" x2="991.52" y2="999.36" stroke="#000" stroke-width="1.0" />
<line x1="909.28" y1="955.34" x2="992.68" y2="997.04" stroke="#000" stroke-width="1.0" />
<polygon points="988.72,854.31 1031.02,880.31 1032.38,878.09 990.08,852.09" fill="#fff" stroke="none" stroke-width="0" stroke-linejoin="round" />
<line x1="988.72" y1="854.31" x2="1031.02" y2="880.31" stroke="#000" stroke-width="1.0" />
<line x1="990.08" y1="852.09" x2="1032.38" y2="878.09" stroke="#000" stroke-width="1.0" />
<polygon points="977.85,869.38 1023.65,890.58 1024.75,888.22 978.95,867.02" fill="#fff" stroke="none" stroke-width="0" stroke-linejoin="round" />
<line x1="977.85" y1="869.38" x2="1023.65" y2="890.58" stroke="#000" stroke-width="1.0" />
<line x1="978.95" y1="867.02" x2="1024.75" y2="888.22" stroke="#000" stroke-width="1.0" />
<polygon points="1030.81,878.55 1023.31,888.75 1025.09,890.05 1032.59,879.85" fill="#fff" stroke="none" stroke-width="0" stroke-linejoin="round" />
<line x1="1030.81" y1="878.55" x2="1023.31" y2="888.75" stroke="#000" stroke-width="1.0" />
<line x1="1032.59" y1="879.85" x2="1025.09" y2="890.05" stroke="#000" stroke-width="1.0" />
<polygon points="988.51,852.55 977.51,867.55 979.29,868.85 990.29,853.85" fill="#fff" stroke="none" stroke-width="0" stroke-linejoin="round" />
<line x1="988.51" y1="852.55" x2="977.51" y2="867.55" stroke="#000" stroke-width="1.0" />
<line x1="990.29" y1="853.85" x2="979.29" y2="868.85" stroke="#000" stroke-width="1.0" />
<polygon points="977.10,868.13 973.00,946.83 975.60,946.97 979.70,868.27" fill="#fff" stroke="none" stroke-width="0" stroke-linejoin="round" />
<line x1="977.10" y1="868.13" x2="973.00" y2="946.83" stroke="#000" stroke-width="1.0" />
<line x1="979.70" y1="868.27" x2="975.60" y2="946.97" stroke="#000" stroke-width="1.0" />
<polygon points="973.01,947.03 979.81,1012.63 982.39,1012.37 975.59,946.77" fill="#fff" stroke="none" stroke-width="0" stroke-linejoin="round" />
<line x1="973.01" y1="947.03" x2="979.81" y2="1012.63" stroke="#000" stroke-width="1.0" />
<line x1="975.59" y1="946.77" x2="982.39" y2="1012.37" stroke="#000" stroke-width="1.0" />
<polygon points="988.10,853.28 992.20,919.58 994.80,919.42 990.70,853.12" fill="#fff" stroke="none" stroke-width="0" stroke-linejoin="round" />
<line x1="988.10" y1="853.28" x2="992.20" y2="919.58" stroke="#000" stroke-width="1.0" />
<line x1="990.70" y1="853.12" x2="994.80" y2="919.42" stroke="#000" stroke-width="1.0" />
<polygon points="992.20,919.48 990.80,998.18 993.40,998.22 994.80,919.52" fill="#fff" stroke="none" stroke-width="0" stroke-linejoin="round" />
<line x1="992.20" y1="919.48" x2="990.80" y2="998.18" stroke="#000" stroke-width="1.0" />
<line x1="994.80" y1="919.52" x2="993.40" y2="998.22" stroke="#000" stroke-width="1.0" />
<polygon points="1022.90,889.37 1021.60,942.07 1024.20,942.13 1025.50,889.43" fill="#fff" stroke="none" stroke-width="0" stroke-linejoin="round" />
<line x1="1022.90" y1="889.37" x2="1021.60" y2="942.07" stroke="#000" stroke-width="1.0" />
<line x1="1025.50" y1="889.43" x2="1024.20" y2="942.13" stroke="#000" stroke-width="1.0" />
<polygon points="1021.61,942.22 1025.71,987.32 1028.29,987.08 1024.19,941.98" fill="#fff" stroke="none" stroke-width="0" stroke-linejoin="round" />
<line x1="1021.61" y1="942.22" x2="1025.71" y2="987.32" stroke="#000" stroke-width="1.0" />
<line x1="1024.19" y1="941.98" x2="1028.29" y2="987.08" stroke="#000" stroke-width="1.0" />
<polygon points="1030.41,879.32 1035.21,932.62 1037.79,932.38 1032.99,879.08" fill="#fff" stroke="none" stroke-width="0" stroke-linejoin="round" />
<line x1="1030.41" y1="879.32" x2="1035.21" y2="932.62" stroke="#000" stroke-width="1.0" />
<line x1="1032.99" y1="879.08" x2="1037.79" y2="932.38" stroke="#000" stroke-width="1.0" />
<polygon points="1035.20,932.40 1031.80,978.20 1034.40,978.40 1037.80,932.60" fill="#fff" stroke="none" stroke-width="0" stroke-linejoin="round" />
<line x1="1035.20" y1="932.40" x2="1031.80" y2="978.20" stroke="#000" stroke-width="1.0" />
<line x1="1037.80" y1="932.60" x2="1034.40" y2="978.40" stroke="#000" stroke-width="1.0" />
<polygon points="981.73,1013.64 1027.63,988.34 1026.37,986.06 980.47,1011.36" fill="#fff" stroke="none" stroke-width="0" stroke-linejoin="round" />
<line x1="981.73" y1="1013.64" x2="1027.63" y2="988.34" stroke="#000" stroke-width="1.0" />
<line x1="980.47" y1="1011.36" x2="1026.37" y2="986.06" stroke="#000" stroke-width="1.0" />
<polygon points="992.67,999.37 1033.67,979.47 1032.53,977.13 991.53,997.03" fill="#fff" stroke="none" stroke-width="0" stroke-linejoin="round" />
<line x1="992.67" y1="999.37" x2="1033.67" y2="979.47" stroke="#000" stroke-width="1.0" />
<line x1="991.53" y1="997.03" x2="1032.53" y2="977.13" stroke="#000" stroke-width="1.0" />
<polygon points="1032.19,977.68 1026.09,986.58 1027.91,987.82 1034.01,978.92" fill="#fff" stroke="none" stroke-width="0" stroke-linejoin="round" />
<line x1="1032.19" y1="977.68" x2="1026.09" y2="986.58" stroke="#000" stroke-width="1.0" />
<line x1="1034.01" y1="978.92" x2="1027.91" y2="987.82" stroke="#000" stroke-width="1.0" />
<polygon points="981.97,1013.17 992.97,998.87 991.23,997.53 980.23,1011.83" fill="#fff" stroke="none" stroke-width="0" stroke-linejoin="round" />
<line x1="981.97" y1="1013.17" x2="992.97" y2="998.87" stroke="#000" stroke-width="1.0" />
<line x1="980.23" y1="1011.83" x2="991.23" y2="997.53" stroke="#000" stroke-width="1.0" />
<line x1="905.00" y1="933.20" x2="1016.00" y2="933.20" stroke="#000" stroke-width="1" />
<ellipse cx="905.30" cy="933.20" rx="5.10" ry="29.70" fill="#fff" stroke="#000" stroke-width="1"  />
<ellipse cx="906.50" cy="933.20" rx="3.00" ry="26.00" fill="none" stroke="#000" stroke-width="1"  />
<line x1="904.30" y1="921.60" x2="904.30" y2="945.50" stroke="#000" stroke-width="2.2" />
<line x1="1029.50" y1="933.20" x2="1048.00" y2="933.20" stroke="#000" stroke-width="1" />
<polygon points="1048.00,933.20 1066.40,928.20 1066.40,937.80" fill="#fff" stroke="#000" stroke-width="1" stroke-linejoin="round" />
<path d="M1048,933.2 L1054,931.5 L1054,934.9 Z" fill="#000"/>
<ellipse cx="1083.60" cy="933.00" rx="3.20" ry="14.50" fill="#fff" stroke="#000" stroke-width="1.6"  />
<ellipse cx="1078.30" cy="933.00" rx="4.50" ry="17.50" fill="#fff" stroke="#000" stroke-width="2.4"  />
<ellipse cx="1078.60" cy="933.00" rx="2.20" ry="13.50" fill="none" stroke="#000" stroke-width="1.0"  />
<line x1="1084.50" y1="921.00" x2="1086.50" y2="921.00" stroke="#000" stroke-width="1.2" />
<line x1="1084.50" y1="927.00" x2="1086.50" y2="927.00" stroke="#000" stroke-width="1.2" />
<line x1="1084.50" y1="939.00" x2="1086.50" y2="939.00" stroke="#000" stroke-width="1.2" />
<line x1="1084.50" y1="945.00" x2="1086.50" y2="945.00" stroke="#000" stroke-width="1.2" />
<line x1="1093.40" y1="933.60" x2="1127.90" y2="933.60" stroke="#000" stroke-width="1" />
<path d="M1096.2,911.6 L1098.5,905.8 Q1101,904.4 1103.5,908 Q1107,917 1106.8,933 Q1106.5,950 1103,958 Q1100.5,962 1097.5,958 Q1094.6,952 1093.5,939" fill="none" stroke="#000" stroke-width="1" stroke-linejoin="round" />
<text x="1036.40" y="1108.50" font-size="17.4" fill="#000" textLength="491.4" lengthAdjust="spacing">Instrukcja montażu / instalation instructions / Montageanleitung</text>
<text x="1036.60" y="1131.50" font-size="17.4" fill="#000" textLength="268.3" lengthAdjust="spacing">Kinkiet / Wall lamp / Wandleuchter</text>
<text x="0" y="0" font-size="53.5" fill="#e3e3e3" style="mix-blend-mode:multiply" transform="translate(684.0 778.0) rotate(-45.0) scale(1.02 1)">beleuchtung.at</text>
</svg>
</body></html>
